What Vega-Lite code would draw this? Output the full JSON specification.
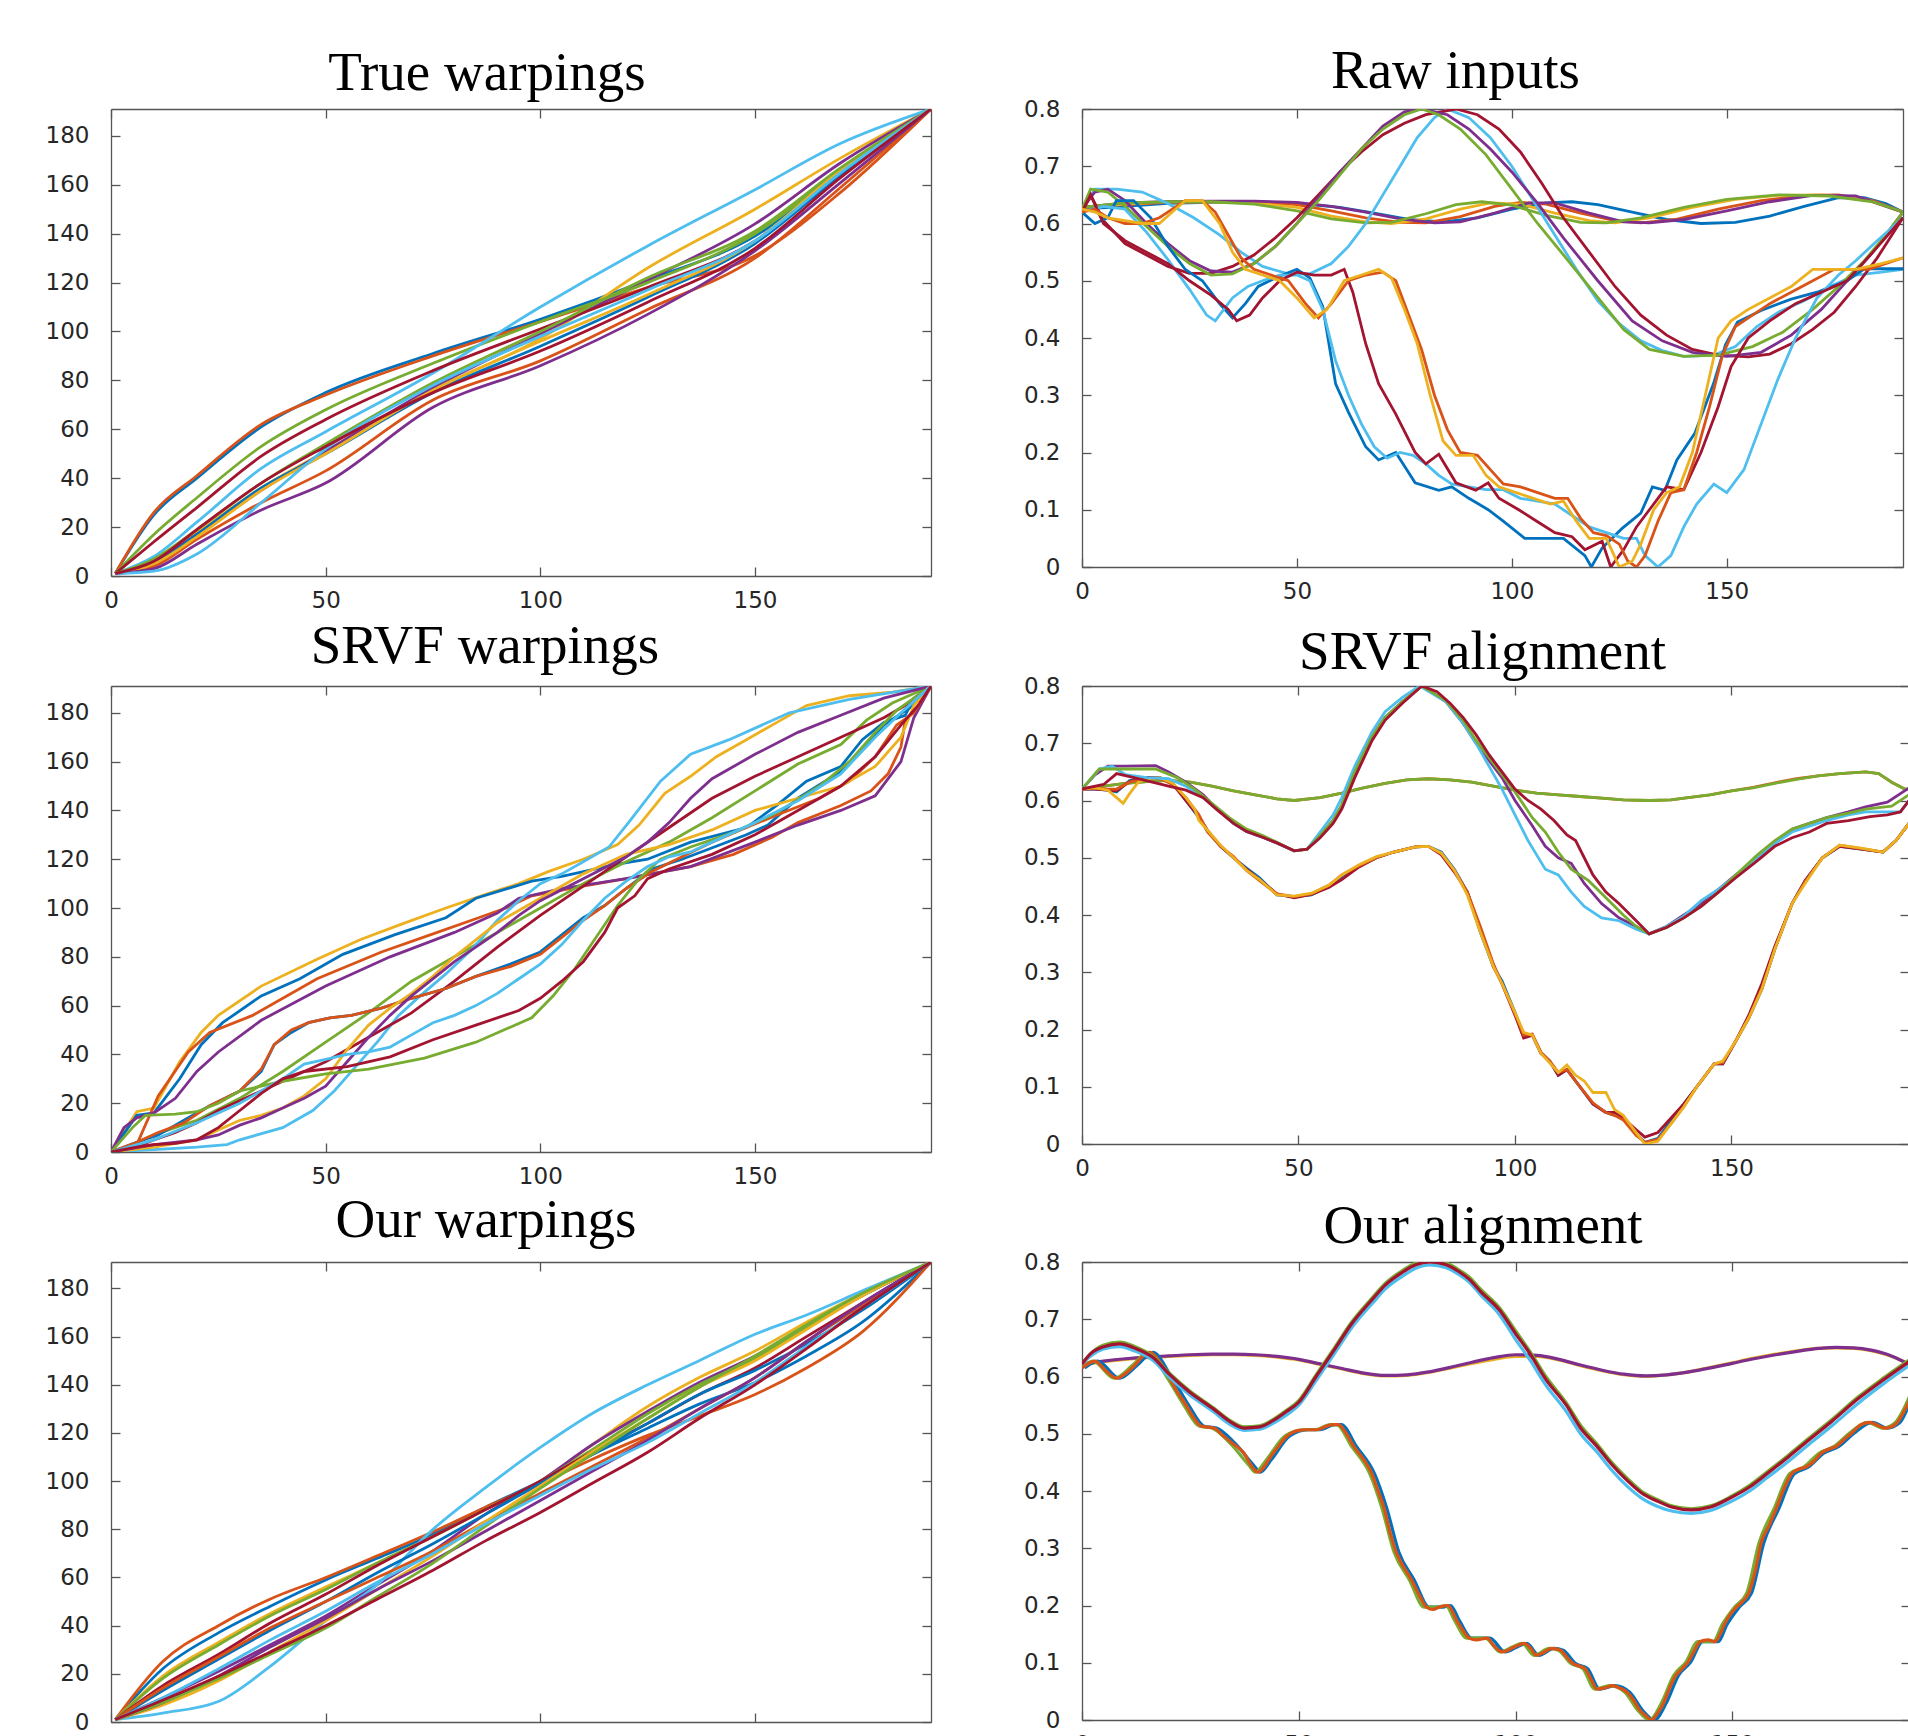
{
"$schema":"https://vega.github.io/schema/vega-lite/v6.json",
"padding":{"left":45,"top":43,"right":0,"bottom":0},
"background":"white",
"config":{
"view":{"stroke":null},
"axis":{"domainColor":"#555555","domainWidth":1.3,"tickColor":"#555555","tickWidth":1.3,"tickSize":-9,"labelFont":"DejaVu Sans","labelFontSize":23,"labelColor":"#262626","labelPadding":31,"labelFlush":false,"labelOverlap":false,"grid":false},
"axisBottom":{"labelPadding":22},
"title":{"font":"Liberation Serif","fontSize":55,"fontWeight":"normal","color":"#000000","anchor":"middle","frame":"group"}
},
"datasets":{
"tw":[
{"s":1,"x":1,"y":1},{"s":1,"x":10,"y":25},{"s":1,"x":20,"y":40},{"s":1,"x":35,"y":61},{"s":1,"x":50,"y":75},{"s":1,"x":75,"y":91},{"s":1,"x":100,"y":105},{"s":1,"x":125,"y":121},{"s":1,"x":150,"y":139},{"s":1,"x":170,"y":165},{"s":1,"x":191,"y":191},
{"s":2,"x":1,"y":1},{"s":2,"x":10,"y":26},{"s":2,"x":20,"y":41},{"s":2,"x":35,"y":62},{"s":2,"x":50,"y":74},{"s":2,"x":75,"y":90},{"s":2,"x":100,"y":104},{"s":2,"x":125,"y":118},{"s":2,"x":150,"y":131},{"s":2,"x":170,"y":157},{"s":2,"x":191,"y":191},
{"s":3,"x":1,"y":1},{"s":3,"x":10,"y":7},{"s":3,"x":20,"y":18},{"s":3,"x":35,"y":36},{"s":3,"x":50,"y":51},{"s":3,"x":75,"y":76},{"s":3,"x":100,"y":97},{"s":3,"x":125,"y":126},{"s":3,"x":150,"y":150},{"s":3,"x":170,"y":171},{"s":3,"x":191,"y":191},
{"s":4,"x":1,"y":1},{"s":4,"x":10,"y":6},{"s":4,"x":20,"y":17},{"s":4,"x":35,"y":35},{"s":4,"x":50,"y":51},{"s":4,"x":75,"y":77},{"s":4,"x":100,"y":99},{"s":4,"x":125,"y":121},{"s":4,"x":150,"y":144},{"s":4,"x":170,"y":169},{"s":4,"x":191,"y":191},
{"s":5,"x":1,"y":1},{"s":5,"x":10,"y":17},{"s":5,"x":20,"y":32},{"s":5,"x":35,"y":53},{"s":5,"x":50,"y":68},{"s":5,"x":75,"y":87},{"s":5,"x":100,"y":104},{"s":5,"x":125,"y":120},{"s":5,"x":150,"y":140},{"s":5,"x":170,"y":166},{"s":5,"x":191,"y":191},
{"s":6,"x":1,"y":1},{"s":6,"x":10,"y":8},{"s":6,"x":20,"y":22},{"s":6,"x":35,"y":44},{"s":6,"x":50,"y":59},{"s":6,"x":75,"y":83},{"s":6,"x":100,"y":110},{"s":6,"x":125,"y":135},{"s":6,"x":150,"y":158},{"s":6,"x":170,"y":177},{"s":6,"x":191,"y":191},
{"s":7,"x":1,"y":1},{"s":7,"x":10,"y":14},{"s":7,"x":20,"y":28},{"s":7,"x":35,"y":49},{"s":7,"x":50,"y":64},{"s":7,"x":75,"y":84},{"s":7,"x":100,"y":101},{"s":7,"x":125,"y":118},{"s":7,"x":150,"y":137},{"s":7,"x":170,"y":165},{"s":7,"x":191,"y":191},
{"s":8,"x":1,"y":1},{"s":8,"x":10,"y":5},{"s":8,"x":20,"y":17},{"s":8,"x":35,"y":36},{"s":8,"x":50,"y":50},{"s":8,"x":75,"y":75},{"s":8,"x":100,"y":94},{"s":8,"x":125,"y":114},{"s":8,"x":150,"y":136},{"s":8,"x":170,"y":164},{"s":8,"x":191,"y":191},
{"s":9,"x":1,"y":1},{"s":9,"x":10,"y":4},{"s":9,"x":20,"y":15},{"s":9,"x":35,"y":30},{"s":9,"x":50,"y":43},{"s":9,"x":75,"y":72},{"s":9,"x":100,"y":88},{"s":9,"x":125,"y":109},{"s":9,"x":150,"y":130},{"s":9,"x":170,"y":159},{"s":9,"x":191,"y":191},
{"s":10,"x":1,"y":1},{"s":10,"x":10,"y":5},{"s":10,"x":20,"y":16},{"s":10,"x":35,"y":35},{"s":10,"x":50,"y":50},{"s":10,"x":75,"y":76},{"s":10,"x":100,"y":96},{"s":10,"x":125,"y":115},{"s":10,"x":150,"y":137},{"s":10,"x":170,"y":166},{"s":10,"x":191,"y":191},
{"s":11,"x":1,"y":1},{"s":11,"x":10,"y":3},{"s":11,"x":20,"y":13},{"s":11,"x":35,"y":27},{"s":11,"x":50,"y":38},{"s":11,"x":75,"y":69},{"s":11,"x":100,"y":86},{"s":11,"x":125,"y":107},{"s":11,"x":150,"y":133},{"s":11,"x":170,"y":161},{"s":11,"x":191,"y":191},
{"s":12,"x":1,"y":1},{"s":12,"x":10,"y":7},{"s":12,"x":20,"y":19},{"s":12,"x":35,"y":38},{"s":12,"x":50,"y":54},{"s":12,"x":75,"y":79},{"s":12,"x":100,"y":100},{"s":12,"x":125,"y":122},{"s":12,"x":150,"y":141},{"s":12,"x":170,"y":167},{"s":12,"x":191,"y":191},
{"s":13,"x":1,"y":1},{"s":13,"x":10,"y":2},{"s":13,"x":20,"y":9},{"s":13,"x":35,"y":30},{"s":13,"x":50,"y":52},{"s":13,"x":75,"y":78},{"s":13,"x":100,"y":98},{"s":13,"x":125,"y":117},{"s":13,"x":150,"y":137},{"s":13,"x":170,"y":165},{"s":13,"x":191,"y":191},
{"s":14,"x":1,"y":1},{"s":14,"x":10,"y":6},{"s":14,"x":20,"y":19},{"s":14,"x":35,"y":38},{"s":14,"x":50,"y":53},{"s":14,"x":75,"y":75},{"s":14,"x":100,"y":92},{"s":14,"x":125,"y":112},{"s":14,"x":150,"y":134},{"s":14,"x":170,"y":163},{"s":14,"x":191,"y":191}
],
"rw":[
{"s":1,"x":0,"y":0.625},{"s":1,"x":10,"y":0.63},{"s":1,"x":20,"y":0.635},{"s":1,"x":30,"y":0.637},{"s":1,"x":40,"y":0.637},{"s":1,"x":50,"y":0.635},{"s":1,"x":60,"y":0.628},{"s":1,"x":68,"y":0.618},{"s":1,"x":76,"y":0.607},{"s":1,"x":84,"y":0.603},{"s":1,"x":92,"y":0.61},{"s":1,"x":100,"y":0.625},{"s":1,"x":108,"y":0.636},{"s":1,"x":114,"y":0.638},{"s":1,"x":120,"y":0.633},{"s":1,"x":128,"y":0.62},{"s":1,"x":136,"y":0.607},{"s":1,"x":144,"y":0.6},{"s":1,"x":152,"y":0.602},{"s":1,"x":160,"y":0.613},{"s":1,"x":168,"y":0.63},{"s":1,"x":176,"y":0.645},{"s":1,"x":182,"y":0.645},{"s":1,"x":187,"y":0.635},{"s":1,"x":191,"y":0.62},
{"s":2,"x":0,"y":0.628},{"s":2,"x":10,"y":0.633},{"s":2,"x":20,"y":0.637},{"s":2,"x":30,"y":0.638},{"s":2,"x":40,"y":0.638},{"s":2,"x":50,"y":0.633},{"s":2,"x":58,"y":0.622},{"s":2,"x":66,"y":0.61},{"s":2,"x":74,"y":0.602},{"s":2,"x":80,"y":0.601},{"s":2,"x":88,"y":0.612},{"s":2,"x":96,"y":0.63},{"s":2,"x":102,"y":0.637},{"s":2,"x":108,"y":0.634},{"s":2,"x":116,"y":0.618},{"s":2,"x":124,"y":0.605},{"s":2,"x":130,"y":0.601},{"s":2,"x":138,"y":0.607},{"s":2,"x":148,"y":0.625},{"s":2,"x":158,"y":0.64},{"s":2,"x":168,"y":0.649},{"s":2,"x":176,"y":0.65},{"s":2,"x":184,"y":0.64},{"s":2,"x":191,"y":0.62},
{"s":3,"x":0,"y":0.628},{"s":3,"x":10,"y":0.634},{"s":3,"x":20,"y":0.638},{"s":3,"x":30,"y":0.638},{"s":3,"x":40,"y":0.636},{"s":3,"x":50,"y":0.628},{"s":3,"x":58,"y":0.613},{"s":3,"x":66,"y":0.603},{"s":3,"x":72,"y":0.6},{"s":3,"x":80,"y":0.608},{"s":3,"x":88,"y":0.625},{"s":3,"x":95,"y":0.636},{"s":3,"x":102,"y":0.634},{"s":3,"x":110,"y":0.618},{"s":3,"x":118,"y":0.605},{"s":3,"x":124,"y":0.601},{"s":3,"x":132,"y":0.61},{"s":3,"x":142,"y":0.628},{"s":3,"x":152,"y":0.642},{"s":3,"x":162,"y":0.649},{"s":3,"x":172,"y":0.65},{"s":3,"x":182,"y":0.643},{"s":3,"x":191,"y":0.62},
{"s":4,"x":0,"y":0.628},{"s":4,"x":10,"y":0.636},{"s":4,"x":20,"y":0.638},{"s":4,"x":30,"y":0.639},{"s":4,"x":40,"y":0.639},{"s":4,"x":50,"y":0.637},{"s":4,"x":58,"y":0.63},{"s":4,"x":66,"y":0.62},{"s":4,"x":74,"y":0.608},{"s":4,"x":82,"y":0.601},{"s":4,"x":88,"y":0.603},{"s":4,"x":96,"y":0.618},{"s":4,"x":104,"y":0.636},{"s":4,"x":110,"y":0.636},{"s":4,"x":118,"y":0.618},{"s":4,"x":126,"y":0.603},{"s":4,"x":132,"y":0.601},{"s":4,"x":140,"y":0.607},{"s":4,"x":150,"y":0.622},{"s":4,"x":160,"y":0.638},{"s":4,"x":170,"y":0.649},{"s":4,"x":180,"y":0.648},{"s":4,"x":191,"y":0.62},
{"s":5,"x":0,"y":0.628},{"s":5,"x":10,"y":0.636},{"s":5,"x":20,"y":0.638},{"s":5,"x":30,"y":0.638},{"s":5,"x":40,"y":0.634},{"s":5,"x":50,"y":0.622},{"s":5,"x":58,"y":0.608},{"s":5,"x":66,"y":0.601},{"s":5,"x":72,"y":0.602},{"s":5,"x":80,"y":0.617},{"s":5,"x":87,"y":0.633},{"s":5,"x":93,"y":0.638},{"s":5,"x":100,"y":0.632},{"s":5,"x":108,"y":0.614},{"s":5,"x":116,"y":0.602},{"s":5,"x":122,"y":0.601},{"s":5,"x":130,"y":0.61},{"s":5,"x":140,"y":0.628},{"s":5,"x":150,"y":0.642},{"s":5,"x":162,"y":0.65},{"s":5,"x":174,"y":0.648},{"s":5,"x":184,"y":0.638},{"s":5,"x":191,"y":0.62},
{"s":6,"x":0,"y":0.625},{"s":6,"x":3,"y":0.66},{"s":6,"x":8,"y":0.66},{"s":6,"x":14,"y":0.655},{"s":6,"x":20,"y":0.635},{"s":6,"x":26,"y":0.61},{"s":6,"x":32,"y":0.58},{"s":6,"x":37,"y":0.55},{"s":6,"x":42,"y":0.525},{"s":6,"x":48,"y":0.512},{"s":6,"x":53,"y":0.512},{"s":6,"x":58,"y":0.53},{"s":6,"x":62,"y":0.56},{"s":6,"x":66,"y":0.6},{"s":6,"x":70,"y":0.65},{"s":6,"x":74,"y":0.7},{"s":6,"x":78,"y":0.75},{"s":6,"x":82,"y":0.785},{"s":6,"x":85,"y":0.8},{"s":6,"x":90,"y":0.785},{"s":6,"x":95,"y":0.75},{"s":6,"x":100,"y":0.7},{"s":6,"x":105,"y":0.64},{"s":6,"x":110,"y":0.58},{"s":6,"x":115,"y":0.52},{"s":6,"x":120,"y":0.465},{"s":6,"x":125,"y":0.425},{"s":6,"x":130,"y":0.395},{"s":6,"x":135,"y":0.378},{"s":6,"x":140,"y":0.368},{"s":6,"x":147,"y":0.37},{"s":6,"x":152,"y":0.385},{"s":6,"x":157,"y":0.42},{"s":6,"x":162,"y":0.445},{"s":6,"x":168,"y":0.465},{"s":6,"x":174,"y":0.49},{"s":6,"x":180,"y":0.51},{"s":6,"x":186,"y":0.515},{"s":6,"x":191,"y":0.52},
{"s":7,"x":0,"y":0.62},{"s":7,"x":2,"y":0.65},{"s":7,"x":5,"y":0.605},{"s":7,"x":10,"y":0.565},{"s":7,"x":15,"y":0.545},{"s":7,"x":20,"y":0.525},{"s":7,"x":25,"y":0.513},{"s":7,"x":30,"y":0.513},{"s":7,"x":35,"y":0.525},{"s":7,"x":40,"y":0.545},{"s":7,"x":45,"y":0.575},{"s":7,"x":50,"y":0.61},{"s":7,"x":55,"y":0.65},{"s":7,"x":60,"y":0.69},{"s":7,"x":65,"y":0.725},{"s":7,"x":70,"y":0.755},{"s":7,"x":75,"y":0.775},{"s":7,"x":80,"y":0.79},{"s":7,"x":87,"y":0.8},{"s":7,"x":92,"y":0.79},{"s":7,"x":97,"y":0.765},{"s":7,"x":102,"y":0.725},{"s":7,"x":107,"y":0.67},{"s":7,"x":112,"y":0.61},{"s":7,"x":118,"y":0.55},{"s":7,"x":124,"y":0.49},{"s":7,"x":130,"y":0.44},{"s":7,"x":136,"y":0.405},{"s":7,"x":142,"y":0.38},{"s":7,"x":148,"y":0.37},{"s":7,"x":155,"y":0.367},{"s":7,"x":160,"y":0.372},{"s":7,"x":165,"y":0.39},{"s":7,"x":170,"y":0.415},{"s":7,"x":175,"y":0.445},{"s":7,"x":180,"y":0.49},{"s":7,"x":185,"y":0.54},{"s":7,"x":191,"y":0.61},
{"s":11,"x":0,"y":0.625},{"s":11,"x":3,"y":0.655},{"s":11,"x":6,"y":0.66},{"s":11,"x":10,"y":0.64},{"s":11,"x":15,"y":0.6},{"s":11,"x":20,"y":0.565},{"s":11,"x":25,"y":0.535},{"s":11,"x":30,"y":0.517},{"s":11,"x":35,"y":0.515},{"s":11,"x":40,"y":0.53},{"s":11,"x":45,"y":0.56},{"s":11,"x":50,"y":0.6},{"s":11,"x":55,"y":0.645},{"s":11,"x":60,"y":0.69},{"s":11,"x":65,"y":0.73},{"s":11,"x":70,"y":0.77},{"s":11,"x":75,"y":0.795},{"s":11,"x":79,"y":0.8},{"s":11,"x":85,"y":0.79},{"s":11,"x":90,"y":0.765},{"s":11,"x":95,"y":0.73},{"s":11,"x":100,"y":0.69},{"s":11,"x":106,"y":0.635},{"s":11,"x":112,"y":0.575},{"s":11,"x":120,"y":0.5},{"s":11,"x":128,"y":0.43},{"s":11,"x":135,"y":0.395},{"s":11,"x":142,"y":0.375},{"s":11,"x":150,"y":0.368},{"s":11,"x":158,"y":0.375},{"s":11,"x":165,"y":0.405},{"s":11,"x":172,"y":0.45},{"s":11,"x":178,"y":0.5},{"s":11,"x":184,"y":0.55},{"s":11,"x":191,"y":0.62},
{"s":12,"x":0,"y":0.625},{"s":12,"x":2,"y":0.66},{"s":12,"x":6,"y":0.655},{"s":12,"x":10,"y":0.63},{"s":12,"x":15,"y":0.595},{"s":12,"x":20,"y":0.56},{"s":12,"x":25,"y":0.53},{"s":12,"x":30,"y":0.51},{"s":12,"x":35,"y":0.512},{"s":12,"x":40,"y":0.53},{"s":12,"x":45,"y":0.56},{"s":12,"x":50,"y":0.6},{"s":12,"x":55,"y":0.64},{"s":12,"x":60,"y":0.685},{"s":12,"x":65,"y":0.73},{"s":12,"x":70,"y":0.765},{"s":12,"x":75,"y":0.79},{"s":12,"x":79,"y":0.8},{"s":12,"x":83,"y":0.79},{"s":12,"x":88,"y":0.765},{"s":12,"x":94,"y":0.72},{"s":12,"x":100,"y":0.66},{"s":12,"x":106,"y":0.6},{"s":12,"x":112,"y":0.545},{"s":12,"x":119,"y":0.48},{"s":12,"x":126,"y":0.415},{"s":12,"x":132,"y":0.38},{"s":12,"x":140,"y":0.368},{"s":12,"x":148,"y":0.37},{"s":12,"x":156,"y":0.385},{"s":12,"x":163,"y":0.41},{"s":12,"x":170,"y":0.45},{"s":12,"x":176,"y":0.49},{"s":12,"x":182,"y":0.535},{"s":12,"x":187,"y":0.58},{"s":12,"x":191,"y":0.62},
{"s":8,"x":0,"y":0.62},{"s":8,"x":3,"y":0.6},{"s":8,"x":6,"y":0.61},{"s":8,"x":8,"y":0.64},{"s":8,"x":12,"y":0.64},{"s":8,"x":16,"y":0.61},{"s":8,"x":20,"y":0.56},{"s":8,"x":24,"y":0.52},{"s":8,"x":28,"y":0.5},{"s":8,"x":32,"y":0.46},{"s":8,"x":35,"y":0.435},{"s":8,"x":38,"y":0.46},{"s":8,"x":41,"y":0.49},{"s":8,"x":45,"y":0.505},{"s":8,"x":50,"y":0.52},{"s":8,"x":53,"y":0.505},{"s":8,"x":56,"y":0.455},{"s":8,"x":59,"y":0.32},{"s":8,"x":62,"y":0.27},{"s":8,"x":66,"y":0.21},{"s":8,"x":69,"y":0.187},{"s":8,"x":73,"y":0.2},{"s":8,"x":77.5,"y":0.147},{"s":8,"x":83,"y":0.134},{"s":8,"x":86,"y":0.14},{"s":8,"x":90,"y":0.12},{"s":8,"x":94.5,"y":0.1},{"s":8,"x":98,"y":0.08},{"s":8,"x":103,"y":0.05},{"s":8,"x":108,"y":0.05},{"s":8,"x":112,"y":0.05},{"s":8,"x":117,"y":0.02},{"s":8,"x":118.5,"y":0},{"s":8,"x":121,"y":0.033},{"s":8,"x":125.6,"y":0.067},{"s":8,"x":130,"y":0.094},{"s":8,"x":132.7,"y":0.14},{"s":8,"x":135.6,"y":0.134},{"s":8,"x":138.4,"y":0.187},{"s":8,"x":142.6,"y":0.234},{"s":8,"x":146.9,"y":0.32},{"s":8,"x":149.7,"y":0.388},{"s":8,"x":152.5,"y":0.428},{"s":8,"x":158,"y":0.448},{"s":8,"x":165,"y":0.468},{"s":8,"x":171,"y":0.48},{"s":8,"x":178,"y":0.5},{"s":8,"x":182,"y":0.521},{"s":8,"x":191,"y":0.521},
{"s":13,"x":0,"y":0.62},{"s":13,"x":5,"y":0.63},{"s":13,"x":10,"y":0.625},{"s":13,"x":15,"y":0.585},{"s":13,"x":20,"y":0.537},{"s":13,"x":25,"y":0.485},{"s":13,"x":29,"y":0.44},{"s":13,"x":31,"y":0.43},{"s":13,"x":35,"y":0.47},{"s":13,"x":38.6,"y":0.49},{"s":13,"x":42,"y":0.5},{"s":13,"x":46,"y":0.51},{"s":13,"x":50,"y":0.51},{"s":13,"x":53,"y":0.5},{"s":13,"x":56,"y":0.45},{"s":13,"x":59,"y":0.36},{"s":13,"x":62,"y":0.3},{"s":13,"x":65,"y":0.25},{"s":13,"x":68,"y":0.21},{"s":13,"x":71,"y":0.19},{"s":13,"x":74,"y":0.2},{"s":13,"x":77,"y":0.195},{"s":13,"x":80,"y":0.18},{"s":13,"x":83,"y":0.16},{"s":13,"x":86,"y":0.145},{"s":13,"x":90,"y":0.14},{"s":13,"x":94,"y":0.135},{"s":13,"x":98,"y":0.135},{"s":13,"x":102,"y":0.12},{"s":13,"x":106,"y":0.115},{"s":13,"x":110,"y":0.11},{"s":13,"x":114,"y":0.09},{"s":13,"x":118,"y":0.07},{"s":13,"x":122,"y":0.06},{"s":13,"x":126,"y":0.05},{"s":13,"x":129,"y":0.05},{"s":13,"x":131,"y":0.02},{"s":13,"x":134,"y":0},{"s":13,"x":137,"y":0.02},{"s":13,"x":140,"y":0.07},{"s":13,"x":143,"y":0.11},{"s":13,"x":147,"y":0.145},{"s":13,"x":150,"y":0.13},{"s":13,"x":154,"y":0.17},{"s":13,"x":158,"y":0.25},{"s":13,"x":162,"y":0.33},{"s":13,"x":166,"y":0.4},{"s":13,"x":171,"y":0.47},{"s":13,"x":176,"y":0.51},{"s":13,"x":180,"y":0.535},{"s":13,"x":185,"y":0.57},{"s":13,"x":191,"y":0.61},
{"s":14,"x":0,"y":0.62},{"s":14,"x":2,"y":0.65},{"s":14,"x":5,"y":0.6},{"s":14,"x":10,"y":0.57},{"s":14,"x":15,"y":0.55},{"s":14,"x":20,"y":0.53},{"s":14,"x":25,"y":0.5},{"s":14,"x":30,"y":0.475},{"s":14,"x":34,"y":0.45},{"s":14,"x":36,"y":0.43},{"s":14,"x":39,"y":0.44},{"s":14,"x":42,"y":0.47},{"s":14,"x":46,"y":0.5},{"s":14,"x":50,"y":0.515},{"s":14,"x":54,"y":0.51},{"s":14,"x":58,"y":0.51},{"s":14,"x":61,"y":0.52},{"s":14,"x":63,"y":0.48},{"s":14,"x":66,"y":0.39},{"s":14,"x":69,"y":0.32},{"s":14,"x":73,"y":0.267},{"s":14,"x":77.5,"y":0.2},{"s":14,"x":80,"y":0.18},{"s":14,"x":83,"y":0.197},{"s":14,"x":87,"y":0.147},{"s":14,"x":91.6,"y":0.134},{"s":14,"x":94.5,"y":0.147},{"s":14,"x":97,"y":0.12},{"s":14,"x":101.6,"y":0.1},{"s":14,"x":105.8,"y":0.08},{"s":14,"x":110,"y":0.06},{"s":14,"x":114,"y":0.053},{"s":14,"x":117,"y":0.03},{"s":14,"x":121,"y":0.045},{"s":14,"x":123,"y":0},{"s":14,"x":126,"y":0.03},{"s":14,"x":129,"y":0.07},{"s":14,"x":132,"y":0.1},{"s":14,"x":136,"y":0.14},{"s":14,"x":140,"y":0.135},{"s":14,"x":144,"y":0.2},{"s":14,"x":148,"y":0.28},{"s":14,"x":151,"y":0.35},{"s":14,"x":155,"y":0.4},{"s":14,"x":160,"y":0.43},{"s":14,"x":166,"y":0.46},{"s":14,"x":172,"y":0.48},{"s":14,"x":178,"y":0.5},{"s":14,"x":184,"y":0.55},{"s":14,"x":191,"y":0.61},
{"s":9,"x":0,"y":0.62},{"s":9,"x":3,"y":0.625},{"s":9,"x":6,"y":0.61},{"s":9,"x":10,"y":0.6},{"s":9,"x":14,"y":0.6},{"s":9,"x":18,"y":0.61},{"s":9,"x":21,"y":0.625},{"s":9,"x":24,"y":0.64},{"s":9,"x":28,"y":0.64},{"s":9,"x":31,"y":0.62},{"s":9,"x":34,"y":0.58},{"s":9,"x":37,"y":0.54},{"s":9,"x":40,"y":0.52},{"s":9,"x":44,"y":0.51},{"s":9,"x":48,"y":0.5},{"s":9,"x":52,"y":0.46},{"s":9,"x":55,"y":0.435},{"s":9,"x":58,"y":0.46},{"s":9,"x":62,"y":0.5},{"s":9,"x":66,"y":0.51},{"s":9,"x":70,"y":0.515},{"s":9,"x":73,"y":0.5},{"s":9,"x":76,"y":0.44},{"s":9,"x":79,"y":0.38},{"s":9,"x":82,"y":0.3},{"s":9,"x":85,"y":0.24},{"s":9,"x":88,"y":0.2},{"s":9,"x":92,"y":0.195},{"s":9,"x":95,"y":0.17},{"s":9,"x":98,"y":0.145},{"s":9,"x":102,"y":0.14},{"s":9,"x":106,"y":0.13},{"s":9,"x":110,"y":0.12},{"s":9,"x":113,"y":0.12},{"s":9,"x":116,"y":0.085},{"s":9,"x":119,"y":0.06},{"s":9,"x":122,"y":0.055},{"s":9,"x":125,"y":0.04},{"s":9,"x":127,"y":0.01},{"s":9,"x":129,"y":0},{"s":9,"x":131,"y":0.02},{"s":9,"x":134,"y":0.08},{"s":9,"x":137,"y":0.13},{"s":9,"x":140,"y":0.135},{"s":9,"x":143,"y":0.2},{"s":9,"x":146,"y":0.28},{"s":9,"x":149,"y":0.37},{"s":9,"x":152,"y":0.42},{"s":9,"x":156,"y":0.44},{"s":9,"x":160,"y":0.46},{"s":9,"x":165,"y":0.48},{"s":9,"x":170,"y":0.5},{"s":9,"x":175,"y":0.52},{"s":9,"x":183,"y":0.52},{"s":9,"x":191,"y":0.54},
{"s":10,"x":0,"y":0.625},{"s":10,"x":3,"y":0.62},{"s":10,"x":6,"y":0.61},{"s":10,"x":10,"y":0.605},{"s":10,"x":14,"y":0.6},{"s":10,"x":18,"y":0.6},{"s":10,"x":21,"y":0.62},{"s":10,"x":24,"y":0.64},{"s":10,"x":28,"y":0.64},{"s":10,"x":32,"y":0.6},{"s":10,"x":35,"y":0.55},{"s":10,"x":38,"y":0.52},{"s":10,"x":42,"y":0.51},{"s":10,"x":46,"y":0.5},{"s":10,"x":50,"y":0.47},{"s":10,"x":54,"y":0.435},{"s":10,"x":57,"y":0.45},{"s":10,"x":61,"y":0.5},{"s":10,"x":65,"y":0.51},{"s":10,"x":69,"y":0.52},{"s":10,"x":72,"y":0.505},{"s":10,"x":75,"y":0.45},{"s":10,"x":78,"y":0.39},{"s":10,"x":81,"y":0.3},{"s":10,"x":84,"y":0.22},{"s":10,"x":87,"y":0.195},{"s":10,"x":91,"y":0.195},{"s":10,"x":94,"y":0.16},{"s":10,"x":97,"y":0.14},{"s":10,"x":101,"y":0.13},{"s":10,"x":105,"y":0.12},{"s":10,"x":109,"y":0.11},{"s":10,"x":112,"y":0.115},{"s":10,"x":115,"y":0.08},{"s":10,"x":118,"y":0.05},{"s":10,"x":122,"y":0.05},{"s":10,"x":125,"y":0},{"s":10,"x":128,"y":0.01},{"s":10,"x":130,"y":0.04},{"s":10,"x":133,"y":0.1},{"s":10,"x":136,"y":0.13},{"s":10,"x":139,"y":0.14},{"s":10,"x":142,"y":0.2},{"s":10,"x":145,"y":0.3},{"s":10,"x":148,"y":0.4},{"s":10,"x":151,"y":0.43},{"s":10,"x":155,"y":0.45},{"s":10,"x":160,"y":0.47},{"s":10,"x":165,"y":0.49},{"s":10,"x":170,"y":0.52},{"s":10,"x":180,"y":0.52},{"s":10,"x":186,"y":0.53},{"s":10,"x":191,"y":0.54}
],
"sw":[
{"s":3,"x":0,"y":0},{"s":3,"x":6,"y":16.5},{"s":3,"x":10,"y":18},{"s":3,"x":16,"y":37},{"s":3,"x":21,"y":49},{"s":3,"x":25,"y":56},{"s":3,"x":35,"y":68},{"s":3,"x":48,"y":79},{"s":3,"x":58,"y":87},{"s":3,"x":68,"y":93.6},{"s":3,"x":78,"y":100},{"s":3,"x":88,"y":106},{"s":3,"x":95,"y":110},{"s":3,"x":102,"y":115},{"s":3,"x":110,"y":120},{"s":3,"x":118,"y":126},{"s":3,"x":123,"y":134},{"s":3,"x":129,"y":147},{"s":3,"x":135,"y":154},{"s":3,"x":141,"y":162},{"s":3,"x":148,"y":169},{"s":3,"x":155,"y":176},{"s":3,"x":162,"y":183},{"s":3,"x":172,"y":187},{"s":3,"x":182,"y":188.5},{"s":3,"x":191,"y":191},
{"s":1,"x":0,"y":0},{"s":1,"x":6,"y":15},{"s":1,"x":10,"y":16},{"s":1,"x":16,"y":30},{"s":1,"x":21,"y":44},{"s":1,"x":26,"y":53},{"s":1,"x":35,"y":64},{"s":1,"x":44,"y":71},{"s":1,"x":54,"y":81},{"s":1,"x":66,"y":89},{"s":1,"x":78,"y":96},{"s":1,"x":85,"y":104},{"s":1,"x":98,"y":111},{"s":1,"x":105,"y":113},{"s":1,"x":118,"y":118},{"s":1,"x":125,"y":120},{"s":1,"x":135,"y":127},{"s":1,"x":148,"y":133},{"s":1,"x":155,"y":142},{"s":1,"x":162,"y":152},{"s":1,"x":170,"y":158},{"s":1,"x":175,"y":169},{"s":1,"x":180,"y":176},{"s":1,"x":185,"y":179},{"s":1,"x":187,"y":186},{"s":1,"x":191,"y":191},
{"s":2,"x":0,"y":0},{"s":2,"x":6,"y":3},{"s":2,"x":11,"y":23},{"s":2,"x":18,"y":41},{"s":2,"x":23,"y":49},{"s":2,"x":33,"y":56},{"s":2,"x":48,"y":71},{"s":2,"x":63,"y":82},{"s":2,"x":76,"y":90},{"s":2,"x":84,"y":95},{"s":2,"x":92,"y":100},{"s":2,"x":98,"y":105},{"s":2,"x":110,"y":109},{"s":2,"x":120,"y":112},{"s":2,"x":129,"y":115},{"s":2,"x":135,"y":117},{"s":2,"x":145,"y":122},{"s":2,"x":154,"y":129},{"s":2,"x":160,"y":135},{"s":2,"x":170,"y":142},{"s":2,"x":177,"y":148},{"s":2,"x":181,"y":155},{"s":2,"x":184,"y":166},{"s":2,"x":185,"y":177},{"s":2,"x":188,"y":182},{"s":2,"x":191,"y":191},
{"s":4,"x":0,"y":0},{"s":4,"x":3,"y":10},{"s":4,"x":6,"y":14},{"s":4,"x":10,"y":16},{"s":4,"x":15,"y":22},{"s":4,"x":20,"y":33},{"s":4,"x":25,"y":41},{"s":4,"x":35,"y":54},{"s":4,"x":50,"y":68},{"s":4,"x":65,"y":80},{"s":4,"x":80,"y":90},{"s":4,"x":90,"y":98},{"s":4,"x":95,"y":104},{"s":4,"x":105,"y":108},{"s":4,"x":120,"y":112},{"s":4,"x":135,"y":117},{"s":4,"x":150,"y":127},{"s":4,"x":160,"y":134},{"s":4,"x":170,"y":140},{"s":4,"x":178,"y":146},{"s":4,"x":184,"y":160},{"s":4,"x":187,"y":178},{"s":4,"x":191,"y":191},
{"s":5,"x":0,"y":0},{"s":5,"x":5,"y":3},{"s":5,"x":10,"y":7},{"s":5,"x":20,"y":13},{"s":5,"x":30,"y":22},{"s":5,"x":40,"y":33},{"s":5,"x":50,"y":45},{"s":5,"x":60,"y":57},{"s":5,"x":70,"y":70},{"s":5,"x":80,"y":80},{"s":5,"x":90,"y":90},{"s":5,"x":100,"y":100},{"s":5,"x":110,"y":110},{"s":5,"x":120,"y":119},{"s":5,"x":130,"y":127},{"s":5,"x":140,"y":137},{"s":5,"x":150,"y":148},{"s":5,"x":160,"y":159},{"s":5,"x":170,"y":167},{"s":5,"x":176,"y":177},{"s":5,"x":182,"y":184},{"s":5,"x":191,"y":191},
{"s":6,"x":0,"y":0},{"s":6,"x":10,"y":1},{"s":6,"x":20,"y":2},{"s":6,"x":27,"y":3},{"s":6,"x":30,"y":5},{"s":6,"x":40,"y":10},{"s":6,"x":47,"y":17},{"s":6,"x":52,"y":25},{"s":6,"x":57,"y":35},{"s":6,"x":62,"y":45},{"s":6,"x":67,"y":56},{"s":6,"x":72,"y":64},{"s":6,"x":78,"y":73},{"s":6,"x":84,"y":83},{"s":6,"x":90,"y":95},{"s":6,"x":95,"y":103},{"s":6,"x":100,"y":110},{"s":6,"x":105,"y":114},{"s":6,"x":110,"y":119},{"s":6,"x":116,"y":125},{"s":6,"x":121,"y":136},{"s":6,"x":128,"y":152},{"s":6,"x":135,"y":163},{"s":6,"x":144,"y":169},{"s":6,"x":158,"y":180},{"s":6,"x":172,"y":185.5},{"s":6,"x":191,"y":191},
{"s":7,"x":0,"y":0},{"s":7,"x":6,"y":2},{"s":7,"x":10,"y":5},{"s":7,"x":15,"y":8},{"s":7,"x":20,"y":12},{"s":7,"x":25,"y":17},{"s":7,"x":30,"y":21},{"s":7,"x":35,"y":25},{"s":7,"x":40,"y":29},{"s":7,"x":50,"y":37},{"s":7,"x":60,"y":47},{"s":7,"x":70,"y":57},{"s":7,"x":80,"y":70},{"s":7,"x":90,"y":84},{"s":7,"x":100,"y":97},{"s":7,"x":110,"y":109},{"s":7,"x":120,"y":121},{"s":7,"x":130,"y":133},{"s":7,"x":140,"y":145},{"s":7,"x":150,"y":154},{"s":7,"x":160,"y":162},{"s":7,"x":170,"y":170},{"s":7,"x":180,"y":178},{"s":7,"x":186,"y":184},{"s":7,"x":191,"y":191},
{"s":8,"x":0,"y":0},{"s":8,"x":6,"y":4},{"s":8,"x":11,"y":7},{"s":8,"x":17,"y":13},{"s":8,"x":23,"y":19},{"s":8,"x":30,"y":25},{"s":8,"x":35,"y":33},{"s":8,"x":38,"y":44},{"s":8,"x":42,"y":49},{"s":8,"x":46,"y":53},{"s":8,"x":51,"y":55},{"s":8,"x":56,"y":56},{"s":8,"x":63,"y":59},{"s":8,"x":70,"y":63},{"s":8,"x":78,"y":67},{"s":8,"x":85,"y":72},{"s":8,"x":93,"y":77},{"s":8,"x":100,"y":82},{"s":8,"x":105,"y":89},{"s":8,"x":110,"y":96},{"s":8,"x":115,"y":101},{"s":8,"x":120,"y":108},{"s":8,"x":126,"y":116},{"s":8,"x":133,"y":120},{"s":8,"x":139,"y":124},{"s":8,"x":148,"y":130},{"s":8,"x":153,"y":134},{"s":8,"x":160,"y":145},{"s":8,"x":170,"y":156},{"s":8,"x":175,"y":165},{"s":8,"x":180,"y":175},{"s":8,"x":186,"y":182},{"s":8,"x":191,"y":191},
{"s":9,"x":0,"y":0},{"s":9,"x":6,"y":4},{"s":9,"x":11,"y":8},{"s":9,"x":17,"y":12},{"s":9,"x":23,"y":19},{"s":9,"x":30,"y":25},{"s":9,"x":35,"y":34},{"s":9,"x":38,"y":44},{"s":9,"x":42,"y":50},{"s":9,"x":46,"y":53},{"s":9,"x":51,"y":55},{"s":9,"x":56,"y":56},{"s":9,"x":63,"y":59},{"s":9,"x":70,"y":63},{"s":9,"x":78,"y":67},{"s":9,"x":85,"y":72},{"s":9,"x":93,"y":76},{"s":9,"x":100,"y":81},{"s":9,"x":105,"y":88},{"s":9,"x":110,"y":95},{"s":9,"x":115,"y":101},{"s":9,"x":120,"y":108},{"s":9,"x":126,"y":115},{"s":9,"x":133,"y":121},{"s":9,"x":140,"y":127},{"s":9,"x":148,"y":133},{"s":9,"x":155,"y":138},{"s":9,"x":165,"y":145},{"s":9,"x":172,"y":152},{"s":9,"x":178,"y":162},{"s":9,"x":183,"y":175},{"s":9,"x":187,"y":180},{"s":9,"x":191,"y":191},
{"s":10,"x":0,"y":0},{"s":10,"x":10,"y":2},{"s":10,"x":20,"y":5},{"s":10,"x":25,"y":9},{"s":10,"x":30,"y":13},{"s":10,"x":35,"y":15},{"s":10,"x":40,"y":18},{"s":10,"x":45,"y":23},{"s":10,"x":50,"y":30},{"s":10,"x":55,"y":42},{"s":10,"x":60,"y":52},{"s":10,"x":65,"y":59},{"s":10,"x":70,"y":65},{"s":10,"x":75,"y":72},{"s":10,"x":80,"y":80},{"s":10,"x":85,"y":87},{"s":10,"x":90,"y":94},{"s":10,"x":100,"y":104},{"s":10,"x":110,"y":114},{"s":10,"x":120,"y":122},{"s":10,"x":130,"y":126},{"s":10,"x":140,"y":132},{"s":10,"x":150,"y":140},{"s":10,"x":160,"y":145},{"s":10,"x":170,"y":150},{"s":10,"x":178,"y":158},{"s":10,"x":184,"y":170},{"s":10,"x":187,"y":183},{"s":10,"x":191,"y":191},
{"s":11,"x":0,"y":0},{"s":11,"x":10,"y":3},{"s":11,"x":20,"y":5},{"s":11,"x":25,"y":7},{"s":11,"x":30,"y":11},{"s":11,"x":35,"y":14},{"s":11,"x":40,"y":18},{"s":11,"x":45,"y":22},{"s":11,"x":50,"y":27},{"s":11,"x":55,"y":37},{"s":11,"x":60,"y":47},{"s":11,"x":65,"y":56},{"s":11,"x":70,"y":64},{"s":11,"x":80,"y":78},{"s":11,"x":90,"y":90},{"s":11,"x":95,"y":97},{"s":11,"x":100,"y":103},{"s":11,"x":110,"y":112},{"s":11,"x":120,"y":121},{"s":11,"x":125,"y":127},{"s":11,"x":130,"y":135},{"s":11,"x":135,"y":145},{"s":11,"x":140,"y":153},{"s":11,"x":150,"y":163},{"s":11,"x":160,"y":172},{"s":11,"x":170,"y":179},{"s":11,"x":180,"y":186},{"s":11,"x":191,"y":191},
{"s":12,"x":0,"y":0},{"s":12,"x":5,"y":10},{"s":12,"x":8,"y":15},{"s":12,"x":15,"y":15.5},{"s":12,"x":20,"y":16.5},{"s":12,"x":25,"y":20},{"s":12,"x":30,"y":25},{"s":12,"x":40,"y":29},{"s":12,"x":50,"y":32},{"s":12,"x":60,"y":34},{"s":12,"x":73,"y":38.5},{"s":12,"x":85,"y":45},{"s":12,"x":98,"y":55},{"s":12,"x":103,"y":64},{"s":12,"x":108,"y":75},{"s":12,"x":113,"y":88},{"s":12,"x":118,"y":101},{"s":12,"x":123,"y":112},{"s":12,"x":128,"y":120},{"s":12,"x":135,"y":125},{"s":12,"x":145,"y":131},{"s":12,"x":155,"y":139},{"s":12,"x":165,"y":150},{"s":12,"x":172,"y":160},{"s":12,"x":178,"y":172},{"s":12,"x":183,"y":181},{"s":12,"x":191,"y":191},
{"s":13,"x":0,"y":0},{"s":13,"x":10,"y":5},{"s":13,"x":20,"y":12},{"s":13,"x":30,"y":20},{"s":13,"x":40,"y":30},{"s":13,"x":45,"y":36},{"s":13,"x":50,"y":38},{"s":13,"x":55,"y":40},{"s":13,"x":60,"y":41},{"s":13,"x":65,"y":43},{"s":13,"x":70,"y":48},{"s":13,"x":75,"y":53},{"s":13,"x":80,"y":56},{"s":13,"x":85,"y":60},{"s":13,"x":90,"y":65},{"s":13,"x":95,"y":71},{"s":13,"x":100,"y":77},{"s":13,"x":105,"y":85},{"s":13,"x":110,"y":95},{"s":13,"x":115,"y":104},{"s":13,"x":120,"y":111},{"s":13,"x":125,"y":117},{"s":13,"x":130,"y":121},{"s":13,"x":135,"y":123},{"s":13,"x":140,"y":127},{"s":13,"x":150,"y":135},{"s":13,"x":160,"y":144},{"s":13,"x":170,"y":155},{"s":13,"x":178,"y":170},{"s":13,"x":184,"y":180},{"s":13,"x":191,"y":191},
{"s":14,"x":0,"y":0},{"s":14,"x":6,"y":2},{"s":14,"x":10,"y":3},{"s":14,"x":15,"y":3.5},{"s":14,"x":20,"y":5},{"s":14,"x":25,"y":10},{"s":14,"x":30,"y":17},{"s":14,"x":35,"y":24},{"s":14,"x":40,"y":30},{"s":14,"x":45,"y":33},{"s":14,"x":55,"y":35},{"s":14,"x":65,"y":39},{"s":14,"x":75,"y":46},{"s":14,"x":85,"y":52},{"s":14,"x":95,"y":58},{"s":14,"x":100,"y":63},{"s":14,"x":105,"y":70},{"s":14,"x":110,"y":78},{"s":14,"x":115,"y":90},{"s":14,"x":118,"y":100},{"s":14,"x":122,"y":105},{"s":14,"x":125,"y":112},{"s":14,"x":130,"y":116},{"s":14,"x":140,"y":122},{"s":14,"x":150,"y":130},{"s":14,"x":160,"y":140},{"s":14,"x":170,"y":150},{"s":14,"x":178,"y":162},{"s":14,"x":184,"y":175},{"s":14,"x":188,"y":183},{"s":14,"x":191,"y":191}
],
"sa":[
{"s":2,"x":0,"y":0.62},{"s":2,"x":5,"y":0.625},{"s":2,"x":10,"y":0.63},{"s":2,"x":15,"y":0.633},{"s":2,"x":20,"y":0.635},{"s":2,"x":25,"y":0.632},{"s":2,"x":30,"y":0.625},{"s":2,"x":35,"y":0.617},{"s":2,"x":40,"y":0.61},{"s":2,"x":45,"y":0.603},{"s":2,"x":49,"y":0.6},{"s":2,"x":55,"y":0.605},{"s":2,"x":60,"y":0.613},{"s":2,"x":65,"y":0.622},{"s":2,"x":70,"y":0.63},{"s":2,"x":75,"y":0.636},{"s":2,"x":80,"y":0.638},{"s":2,"x":85,"y":0.636},{"s":2,"x":90,"y":0.632},{"s":2,"x":95,"y":0.625},{"s":2,"x":100,"y":0.618},{"s":2,"x":105,"y":0.613},{"s":2,"x":110,"y":0.61},{"s":2,"x":115,"y":0.607},{"s":2,"x":120,"y":0.604},{"s":2,"x":125,"y":0.601},{"s":2,"x":131,"y":0.6},{"s":2,"x":136,"y":0.601},{"s":2,"x":140,"y":0.605},{"s":2,"x":145,"y":0.61},{"s":2,"x":150,"y":0.617},{"s":2,"x":155,"y":0.623},{"s":2,"x":160,"y":0.631},{"s":2,"x":165,"y":0.638},{"s":2,"x":170,"y":0.643},{"s":2,"x":175,"y":0.647},{"s":2,"x":181,"y":0.65},{"s":2,"x":184,"y":0.647},{"s":2,"x":187,"y":0.632},{"s":2,"x":190,"y":0.62},{"s":2,"x":191,"y":0.62},
{"s":5,"x":0,"y":0.62},{"s":5,"x":5,"y":0.625},{"s":5,"x":10,"y":0.63},{"s":5,"x":15,"y":0.633},{"s":5,"x":20,"y":0.635},{"s":5,"x":25,"y":0.632},{"s":5,"x":30,"y":0.625},{"s":5,"x":35,"y":0.617},{"s":5,"x":40,"y":0.61},{"s":5,"x":45,"y":0.603},{"s":5,"x":49,"y":0.6},{"s":5,"x":55,"y":0.605},{"s":5,"x":60,"y":0.613},{"s":5,"x":65,"y":0.622},{"s":5,"x":70,"y":0.63},{"s":5,"x":75,"y":0.636},{"s":5,"x":80,"y":0.638},{"s":5,"x":85,"y":0.636},{"s":5,"x":90,"y":0.632},{"s":5,"x":95,"y":0.625},{"s":5,"x":100,"y":0.618},{"s":5,"x":105,"y":0.613},{"s":5,"x":110,"y":0.61},{"s":5,"x":115,"y":0.607},{"s":5,"x":120,"y":0.604},{"s":5,"x":125,"y":0.601},{"s":5,"x":131,"y":0.6},{"s":5,"x":136,"y":0.601},{"s":5,"x":140,"y":0.605},{"s":5,"x":145,"y":0.61},{"s":5,"x":150,"y":0.617},{"s":5,"x":155,"y":0.622},{"s":5,"x":160,"y":0.63},{"s":5,"x":165,"y":0.637},{"s":5,"x":170,"y":0.643},{"s":5,"x":175,"y":0.647},{"s":5,"x":181,"y":0.65},{"s":5,"x":184,"y":0.647},{"s":5,"x":187,"y":0.632},{"s":5,"x":190,"y":0.62},{"s":5,"x":191,"y":0.62},
{"s":1,"x":0,"y":0.62},{"s":1,"x":3,"y":0.62},{"s":1,"x":6,"y":0.618},{"s":1,"x":8,"y":0.615},{"s":1,"x":11,"y":0.635},{"s":1,"x":15,"y":0.64},{"s":1,"x":18,"y":0.64},{"s":1,"x":21,"y":0.63},{"s":1,"x":24,"y":0.6},{"s":1,"x":27,"y":0.57},{"s":1,"x":29,"y":0.546},{"s":1,"x":32,"y":0.52},{"s":1,"x":35,"y":0.5},{"s":1,"x":38,"y":0.482},{"s":1,"x":41,"y":0.465},{"s":1,"x":45,"y":0.435},{"s":1,"x":49,"y":0.432},{"s":1,"x":53,"y":0.435},{"s":1,"x":57,"y":0.45},{"s":1,"x":60,"y":0.468},{"s":1,"x":64,"y":0.485},{"s":1,"x":68,"y":0.5},{"s":1,"x":72,"y":0.51},{"s":1,"x":77,"y":0.519},{"s":1,"x":80,"y":0.52},{"s":1,"x":83,"y":0.51},{"s":1,"x":86,"y":0.48},{"s":1,"x":89,"y":0.44},{"s":1,"x":92,"y":0.37},{"s":1,"x":95,"y":0.31},{"s":1,"x":97,"y":0.285},{"s":1,"x":100,"y":0.23},{"s":1,"x":102,"y":0.19},{"s":1,"x":104,"y":0.19},{"s":1,"x":106,"y":0.16},{"s":1,"x":108,"y":0.145},{"s":1,"x":110,"y":0.12},{"s":1,"x":112,"y":0.13},{"s":1,"x":115,"y":0.1},{"s":1,"x":118,"y":0.07},{"s":1,"x":121,"y":0.055},{"s":1,"x":123,"y":0.05},{"s":1,"x":125,"y":0.045},{"s":1,"x":128,"y":0.018},{"s":1,"x":130,"y":0.003},{"s":1,"x":133,"y":0.01},{"s":1,"x":136,"y":0.04},{"s":1,"x":139,"y":0.07},{"s":1,"x":142,"y":0.1},{"s":1,"x":146,"y":0.14},{"s":1,"x":148,"y":0.14},{"s":1,"x":151,"y":0.18},{"s":1,"x":154,"y":0.22},{"s":1,"x":157,"y":0.27},{"s":1,"x":160,"y":0.34},{"s":1,"x":164,"y":0.42},{"s":1,"x":167,"y":0.46},{"s":1,"x":171,"y":0.5},{"s":1,"x":175,"y":0.52},{"s":1,"x":180,"y":0.515},{"s":1,"x":185,"y":0.51},{"s":1,"x":188,"y":0.53},{"s":1,"x":191,"y":0.56},
{"s":14,"x":0,"y":0.62},{"s":14,"x":3,"y":0.62},{"s":14,"x":6,"y":0.618},{"s":14,"x":8,"y":0.617},{"s":14,"x":11,"y":0.633},{"s":14,"x":15,"y":0.64},{"s":14,"x":18,"y":0.64},{"s":14,"x":21,"y":0.628},{"s":14,"x":24,"y":0.6},{"s":14,"x":27,"y":0.572},{"s":14,"x":29,"y":0.548},{"s":14,"x":32,"y":0.52},{"s":14,"x":35,"y":0.5},{"s":14,"x":38,"y":0.48},{"s":14,"x":41,"y":0.462},{"s":14,"x":45,"y":0.437},{"s":14,"x":49,"y":0.43},{"s":14,"x":53,"y":0.436},{"s":14,"x":57,"y":0.448},{"s":14,"x":60,"y":0.462},{"s":14,"x":64,"y":0.484},{"s":14,"x":68,"y":0.5},{"s":14,"x":72,"y":0.51},{"s":14,"x":77,"y":0.519},{"s":14,"x":80,"y":0.52},{"s":14,"x":83,"y":0.505},{"s":14,"x":86,"y":0.475},{"s":14,"x":89,"y":0.44},{"s":14,"x":92,"y":0.375},{"s":14,"x":95,"y":0.31},{"s":14,"x":97,"y":0.28},{"s":14,"x":100,"y":0.225},{"s":14,"x":102,"y":0.185},{"s":14,"x":104,"y":0.19},{"s":14,"x":106,"y":0.158},{"s":14,"x":108,"y":0.145},{"s":14,"x":110,"y":0.12},{"s":14,"x":112,"y":0.13},{"s":14,"x":115,"y":0.1},{"s":14,"x":118,"y":0.07},{"s":14,"x":121,"y":0.055},{"s":14,"x":123,"y":0.055},{"s":14,"x":125,"y":0.045},{"s":14,"x":128,"y":0.025},{"s":14,"x":130,"y":0.012},{"s":14,"x":133,"y":0.02},{"s":14,"x":136,"y":0.045},{"s":14,"x":139,"y":0.07},{"s":14,"x":142,"y":0.1},{"s":14,"x":146,"y":0.14},{"s":14,"x":148,"y":0.14},{"s":14,"x":151,"y":0.18},{"s":14,"x":154,"y":0.225},{"s":14,"x":157,"y":0.28},{"s":14,"x":160,"y":0.345},{"s":14,"x":164,"y":0.42},{"s":14,"x":167,"y":0.46},{"s":14,"x":171,"y":0.5},{"s":14,"x":175,"y":0.52},{"s":14,"x":180,"y":0.515},{"s":14,"x":185,"y":0.51},{"s":14,"x":188,"y":0.53},{"s":14,"x":191,"y":0.56},
{"s":9,"x":0,"y":0.62},{"s":9,"x":3,"y":0.622},{"s":9,"x":6,"y":0.62},{"s":9,"x":8,"y":0.62},{"s":9,"x":11,"y":0.632},{"s":9,"x":15,"y":0.638},{"s":9,"x":18,"y":0.638},{"s":9,"x":21,"y":0.628},{"s":9,"x":24,"y":0.605},{"s":9,"x":27,"y":0.575},{"s":9,"x":29,"y":0.545},{"s":9,"x":32,"y":0.52},{"s":9,"x":35,"y":0.502},{"s":9,"x":38,"y":0.478},{"s":9,"x":41,"y":0.46},{"s":9,"x":45,"y":0.437},{"s":9,"x":49,"y":0.432},{"s":9,"x":53,"y":0.437},{"s":9,"x":57,"y":0.452},{"s":9,"x":60,"y":0.47},{"s":9,"x":64,"y":0.486},{"s":9,"x":68,"y":0.5},{"s":9,"x":72,"y":0.51},{"s":9,"x":77,"y":0.519},{"s":9,"x":80,"y":0.52},{"s":9,"x":83,"y":0.507},{"s":9,"x":86,"y":0.478},{"s":9,"x":89,"y":0.44},{"s":9,"x":92,"y":0.38},{"s":9,"x":95,"y":0.315},{"s":9,"x":97,"y":0.28},{"s":9,"x":100,"y":0.228},{"s":9,"x":102,"y":0.19},{"s":9,"x":104,"y":0.192},{"s":9,"x":106,"y":0.16},{"s":9,"x":108,"y":0.145},{"s":9,"x":110,"y":0.125},{"s":9,"x":112,"y":0.13},{"s":9,"x":115,"y":0.1},{"s":9,"x":118,"y":0.072},{"s":9,"x":121,"y":0.055},{"s":9,"x":123,"y":0.05},{"s":9,"x":125,"y":0.042},{"s":9,"x":128,"y":0.015},{"s":9,"x":130,"y":0.003},{"s":9,"x":133,"y":0.008},{"s":9,"x":136,"y":0.035},{"s":9,"x":139,"y":0.065},{"s":9,"x":142,"y":0.1},{"s":9,"x":146,"y":0.14},{"s":9,"x":148,"y":0.142},{"s":9,"x":151,"y":0.18},{"s":9,"x":154,"y":0.22},{"s":9,"x":157,"y":0.272},{"s":9,"x":160,"y":0.34},{"s":9,"x":164,"y":0.42},{"s":9,"x":167,"y":0.458},{"s":9,"x":171,"y":0.5},{"s":9,"x":175,"y":0.522},{"s":9,"x":180,"y":0.516},{"s":9,"x":185,"y":0.51},{"s":9,"x":188,"y":0.53},{"s":9,"x":191,"y":0.56},
{"s":10,"x":0,"y":0.62},{"s":10,"x":3,"y":0.622},{"s":10,"x":6,"y":0.618},{"s":10,"x":8,"y":0.605},{"s":10,"x":9.5,"y":0.595},{"s":10,"x":11,"y":0.612},{"s":10,"x":13,"y":0.632},{"s":10,"x":15,"y":0.638},{"s":10,"x":18,"y":0.64},{"s":10,"x":21,"y":0.63},{"s":10,"x":24,"y":0.605},{"s":10,"x":26,"y":0.585},{"s":10,"x":27,"y":0.565},{"s":10,"x":29,"y":0.548},{"s":10,"x":32,"y":0.522},{"s":10,"x":35,"y":0.5},{"s":10,"x":38,"y":0.478},{"s":10,"x":41,"y":0.462},{"s":10,"x":45,"y":0.435},{"s":10,"x":49,"y":0.433},{"s":10,"x":53,"y":0.438},{"s":10,"x":57,"y":0.452},{"s":10,"x":60,"y":0.47},{"s":10,"x":64,"y":0.488},{"s":10,"x":68,"y":0.502},{"s":10,"x":72,"y":0.51},{"s":10,"x":77,"y":0.519},{"s":10,"x":80,"y":0.52},{"s":10,"x":83,"y":0.508},{"s":10,"x":86,"y":0.478},{"s":10,"x":89,"y":0.435},{"s":10,"x":92,"y":0.37},{"s":10,"x":95,"y":0.31},{"s":10,"x":97,"y":0.28},{"s":10,"x":100,"y":0.23},{"s":10,"x":102,"y":0.195},{"s":10,"x":104,"y":0.19},{"s":10,"x":106,"y":0.158},{"s":10,"x":108,"y":0.142},{"s":10,"x":110,"y":0.125},{"s":10,"x":112,"y":0.138},{"s":10,"x":114,"y":0.12},{"s":10,"x":116,"y":0.11},{"s":10,"x":118,"y":0.09},{"s":10,"x":121,"y":0.09},{"s":10,"x":123,"y":0.06},{"s":10,"x":125,"y":0.05},{"s":10,"x":128,"y":0.02},{"s":10,"x":130,"y":0.0},{"s":10,"x":133,"y":0.005},{"s":10,"x":136,"y":0.035},{"s":10,"x":139,"y":0.065},{"s":10,"x":142,"y":0.1},{"s":10,"x":146,"y":0.14},{"s":10,"x":148,"y":0.145},{"s":10,"x":151,"y":0.18},{"s":10,"x":154,"y":0.22},{"s":10,"x":157,"y":0.27},{"s":10,"x":160,"y":0.34},{"s":10,"x":164,"y":0.42},{"s":10,"x":167,"y":0.455},{"s":10,"x":171,"y":0.5},{"s":10,"x":175,"y":0.522},{"s":10,"x":180,"y":0.517},{"s":10,"x":185,"y":0.51},{"s":10,"x":188,"y":0.53},{"s":10,"x":191,"y":0.56},
{"s":11,"x":0,"y":0.62},{"s":11,"x":3,"y":0.645},{"s":11,"x":6,"y":0.66},{"s":11,"x":10,"y":0.66},{"s":11,"x":17,"y":0.661},{"s":11,"x":20,"y":0.65},{"s":11,"x":24,"y":0.632},{"s":11,"x":28,"y":0.61},{"s":11,"x":31,"y":0.586},{"s":11,"x":35,"y":0.56},{"s":11,"x":38,"y":0.546},{"s":11,"x":42,"y":0.535},{"s":11,"x":45,"y":0.526},{"s":11,"x":49,"y":0.512},{"s":11,"x":52,"y":0.515},{"s":11,"x":55,"y":0.539},{"s":11,"x":58,"y":0.565},{"s":11,"x":60,"y":0.592},{"s":11,"x":63,"y":0.65},{"s":11,"x":67,"y":0.712},{"s":11,"x":70,"y":0.745},{"s":11,"x":74,"y":0.773},{"s":11,"x":78.5,"y":0.8},{"s":11,"x":84,"y":0.773},{"s":11,"x":88,"y":0.735},{"s":11,"x":91,"y":0.7},{"s":11,"x":94,"y":0.67},{"s":11,"x":97,"y":0.64},{"s":11,"x":100,"y":0.6},{"s":11,"x":104,"y":0.556},{"s":11,"x":107,"y":0.52},{"s":11,"x":110,"y":0.5},{"s":11,"x":113,"y":0.49},{"s":11,"x":116,"y":0.455},{"s":11,"x":120,"y":0.42},{"s":11,"x":124,"y":0.395},{"s":11,"x":128,"y":0.38},{"s":11,"x":131,"y":0.367},{"s":11,"x":135,"y":0.38},{"s":11,"x":139,"y":0.4},{"s":11,"x":143,"y":0.42},{"s":11,"x":147,"y":0.445},{"s":11,"x":151,"y":0.47},{"s":11,"x":156,"y":0.499},{"s":11,"x":160,"y":0.525},{"s":11,"x":164,"y":0.55},{"s":11,"x":168,"y":0.56},{"s":11,"x":172,"y":0.57},{"s":11,"x":177,"y":0.58},{"s":11,"x":181,"y":0.589},{"s":11,"x":186,"y":0.597},{"s":11,"x":191,"y":0.622},
{"s":6,"x":0,"y":0.62},{"s":6,"x":4,"y":0.655},{"s":6,"x":7,"y":0.66},{"s":6,"x":10,"y":0.645},{"s":6,"x":15,"y":0.64},{"s":6,"x":20,"y":0.638},{"s":6,"x":24,"y":0.625},{"s":6,"x":28,"y":0.605},{"s":6,"x":31,"y":0.586},{"s":6,"x":35,"y":0.56},{"s":6,"x":38,"y":0.546},{"s":6,"x":42,"y":0.535},{"s":6,"x":45,"y":0.526},{"s":6,"x":49,"y":0.512},{"s":6,"x":52,"y":0.515},{"s":6,"x":55,"y":0.545},{"s":6,"x":58,"y":0.575},{"s":6,"x":60,"y":0.605},{"s":6,"x":63,"y":0.66},{"s":6,"x":67,"y":0.72},{"s":6,"x":70,"y":0.755},{"s":6,"x":74,"y":0.78},{"s":6,"x":78,"y":0.8},{"s":6,"x":84,"y":0.773},{"s":6,"x":88,"y":0.735},{"s":6,"x":91,"y":0.7},{"s":6,"x":94,"y":0.66},{"s":6,"x":97,"y":0.62},{"s":6,"x":100,"y":0.575},{"s":6,"x":103,"y":0.53},{"s":6,"x":105,"y":0.505},{"s":6,"x":107,"y":0.48},{"s":6,"x":110,"y":0.47},{"s":6,"x":113,"y":0.44},{"s":6,"x":116,"y":0.415},{"s":6,"x":120,"y":0.395},{"s":6,"x":124,"y":0.39},{"s":6,"x":128,"y":0.375},{"s":6,"x":131,"y":0.367},{"s":6,"x":135,"y":0.38},{"s":6,"x":139,"y":0.398},{"s":6,"x":143,"y":0.425},{"s":6,"x":147,"y":0.445},{"s":6,"x":151,"y":0.468},{"s":6,"x":156,"y":0.499},{"s":6,"x":160,"y":0.525},{"s":6,"x":164,"y":0.545},{"s":6,"x":168,"y":0.555},{"s":6,"x":172,"y":0.565},{"s":6,"x":177,"y":0.575},{"s":6,"x":181,"y":0.58},{"s":6,"x":186,"y":0.58},{"s":6,"x":189,"y":0.58},{"s":6,"x":191,"y":0.6},
{"s":12,"x":0,"y":0.62},{"s":12,"x":4,"y":0.655},{"s":12,"x":8,"y":0.655},{"s":12,"x":17,"y":0.655},{"s":12,"x":22,"y":0.64},{"s":12,"x":26,"y":0.62},{"s":12,"x":30,"y":0.595},{"s":12,"x":34,"y":0.57},{"s":12,"x":38,"y":0.55},{"s":12,"x":42,"y":0.538},{"s":12,"x":45,"y":0.527},{"s":12,"x":49,"y":0.512},{"s":12,"x":52,"y":0.515},{"s":12,"x":55,"y":0.539},{"s":12,"x":58,"y":0.565},{"s":12,"x":60,"y":0.592},{"s":12,"x":63,"y":0.65},{"s":12,"x":67,"y":0.712},{"s":12,"x":70,"y":0.745},{"s":12,"x":74,"y":0.773},{"s":12,"x":78.5,"y":0.8},{"s":12,"x":84,"y":0.775},{"s":12,"x":88,"y":0.74},{"s":12,"x":91,"y":0.705},{"s":12,"x":94,"y":0.675},{"s":12,"x":97,"y":0.645},{"s":12,"x":100,"y":0.615},{"s":12,"x":104,"y":0.57},{"s":12,"x":107,"y":0.545},{"s":12,"x":110,"y":0.51},{"s":12,"x":113,"y":0.48},{"s":12,"x":117,"y":0.46},{"s":12,"x":121,"y":0.43},{"s":12,"x":125,"y":0.4},{"s":12,"x":128,"y":0.38},{"s":12,"x":131,"y":0.367},{"s":12,"x":135,"y":0.378},{"s":12,"x":139,"y":0.395},{"s":12,"x":143,"y":0.415},{"s":12,"x":147,"y":0.44},{"s":12,"x":151,"y":0.47},{"s":12,"x":156,"y":0.505},{"s":12,"x":160,"y":0.53},{"s":12,"x":164,"y":0.55},{"s":12,"x":168,"y":0.56},{"s":12,"x":172,"y":0.57},{"s":12,"x":177,"y":0.578},{"s":12,"x":181,"y":0.585},{"s":12,"x":187,"y":0.59},{"s":12,"x":191,"y":0.61},
{"s":7,"x":0,"y":0.62},{"s":7,"x":5,"y":0.628},{"s":7,"x":8,"y":0.647},{"s":7,"x":12,"y":0.64},{"s":7,"x":20,"y":0.625},{"s":7,"x":24,"y":0.618},{"s":7,"x":28,"y":0.605},{"s":7,"x":31,"y":0.585},{"s":7,"x":35,"y":0.56},{"s":7,"x":38,"y":0.546},{"s":7,"x":42,"y":0.535},{"s":7,"x":45,"y":0.526},{"s":7,"x":49,"y":0.512},{"s":7,"x":52,"y":0.515},{"s":7,"x":55,"y":0.535},{"s":7,"x":58,"y":0.56},{"s":7,"x":60,"y":0.585},{"s":7,"x":63,"y":0.64},{"s":7,"x":67,"y":0.705},{"s":7,"x":70,"y":0.74},{"s":7,"x":74,"y":0.77},{"s":7,"x":78.5,"y":0.8},{"s":7,"x":82,"y":0.79},{"s":7,"x":85,"y":0.77},{"s":7,"x":88,"y":0.745},{"s":7,"x":91,"y":0.715},{"s":7,"x":94,"y":0.68},{"s":7,"x":97,"y":0.65},{"s":7,"x":100,"y":0.62},{"s":7,"x":103,"y":0.6},{"s":7,"x":106,"y":0.585},{"s":7,"x":109,"y":0.565},{"s":7,"x":112,"y":0.54},{"s":7,"x":114,"y":0.53},{"s":7,"x":116,"y":0.5},{"s":7,"x":118,"y":0.47},{"s":7,"x":121,"y":0.44},{"s":7,"x":124,"y":0.42},{"s":7,"x":128,"y":0.39},{"s":7,"x":131,"y":0.367},{"s":7,"x":135,"y":0.378},{"s":7,"x":139,"y":0.395},{"s":7,"x":143,"y":0.415},{"s":7,"x":147,"y":0.44},{"s":7,"x":151,"y":0.465},{"s":7,"x":156,"y":0.495},{"s":7,"x":160,"y":0.52},{"s":7,"x":164,"y":0.535},{"s":7,"x":168,"y":0.545},{"s":7,"x":172,"y":0.56},{"s":7,"x":177,"y":0.565},{"s":7,"x":182,"y":0.572},{"s":7,"x":186,"y":0.575},{"s":7,"x":189,"y":0.58},{"s":7,"x":191,"y":0.6}
],
"ow":[
{"s":1,"x":1,"y":1},{"s":1,"x":12,"y":22},{"s":1,"x":25,"y":37},{"s":1,"x":37,"y":48},{"s":1,"x":50,"y":59},{"s":1,"x":62,"y":68},{"s":1,"x":75,"y":78},{"s":1,"x":87,"y":89},{"s":1,"x":100,"y":100},{"s":1,"x":112,"y":111},{"s":1,"x":125,"y":122},{"s":1,"x":137,"y":132},{"s":1,"x":150,"y":141},{"s":1,"x":162,"y":152},{"s":1,"x":175,"y":166},{"s":1,"x":191,"y":191},
{"s":2,"x":1,"y":1},{"s":2,"x":12,"y":25},{"s":2,"x":25,"y":40},{"s":2,"x":37,"y":51},{"s":2,"x":50,"y":60},{"s":2,"x":62,"y":69},{"s":2,"x":75,"y":79},{"s":2,"x":87,"y":89},{"s":2,"x":100,"y":99},{"s":2,"x":112,"y":109},{"s":2,"x":125,"y":119},{"s":2,"x":137,"y":127},{"s":2,"x":150,"y":136},{"s":2,"x":162,"y":147},{"s":2,"x":175,"y":162},{"s":2,"x":191,"y":191},
{"s":3,"x":1,"y":1},{"s":3,"x":12,"y":19},{"s":3,"x":25,"y":33},{"s":3,"x":37,"y":45},{"s":3,"x":50,"y":56},{"s":3,"x":62,"y":66},{"s":3,"x":75,"y":77},{"s":3,"x":87,"y":88},{"s":3,"x":100,"y":100},{"s":3,"x":112,"y":115},{"s":3,"x":125,"y":131},{"s":3,"x":137,"y":143},{"s":3,"x":150,"y":154},{"s":3,"x":162,"y":166},{"s":3,"x":175,"y":178},{"s":3,"x":191,"y":191},
{"s":4,"x":1,"y":1},{"s":4,"x":12,"y":10},{"s":4,"x":25,"y":21},{"s":4,"x":37,"y":32},{"s":4,"x":50,"y":44},{"s":4,"x":62,"y":57},{"s":4,"x":75,"y":71},{"s":4,"x":87,"y":86},{"s":4,"x":100,"y":100},{"s":4,"x":112,"y":115},{"s":4,"x":125,"y":129},{"s":4,"x":137,"y":141},{"s":4,"x":150,"y":152},{"s":4,"x":162,"y":164},{"s":4,"x":175,"y":177},{"s":4,"x":191,"y":191},
{"s":5,"x":1,"y":1},{"s":5,"x":12,"y":18},{"s":5,"x":25,"y":32},{"s":5,"x":37,"y":44},{"s":5,"x":50,"y":55},{"s":5,"x":62,"y":66},{"s":5,"x":75,"y":77},{"s":5,"x":87,"y":88},{"s":5,"x":100,"y":100},{"s":5,"x":112,"y":113},{"s":5,"x":125,"y":128},{"s":5,"x":137,"y":140},{"s":5,"x":150,"y":151},{"s":5,"x":162,"y":164},{"s":5,"x":175,"y":177},{"s":5,"x":191,"y":191},
{"s":6,"x":1,"y":1},{"s":6,"x":12,"y":3.7},{"s":6,"x":25,"y":8.5},{"s":6,"x":37,"y":23},{"s":6,"x":50,"y":42},{"s":6,"x":62,"y":57},{"s":6,"x":75,"y":80},{"s":6,"x":87,"y":97},{"s":6,"x":100,"y":114},{"s":6,"x":112,"y":128},{"s":6,"x":125,"y":140},{"s":6,"x":137,"y":150},{"s":6,"x":150,"y":161},{"s":6,"x":162,"y":169},{"s":6,"x":175,"y":179},{"s":6,"x":191,"y":191},
{"s":7,"x":1,"y":1},{"s":7,"x":12,"y":15},{"s":7,"x":25,"y":28},{"s":7,"x":37,"y":41},{"s":7,"x":50,"y":53},{"s":7,"x":62,"y":65},{"s":7,"x":75,"y":77},{"s":7,"x":87,"y":88},{"s":7,"x":100,"y":100},{"s":7,"x":112,"y":112},{"s":7,"x":125,"y":124},{"s":7,"x":137,"y":136},{"s":7,"x":150,"y":147},{"s":7,"x":162,"y":160},{"s":7,"x":175,"y":174},{"s":7,"x":191,"y":191},
{"s":8,"x":1,"y":1},{"s":8,"x":12,"y":13},{"s":8,"x":25,"y":26},{"s":8,"x":37,"y":38},{"s":8,"x":50,"y":50},{"s":8,"x":62,"y":62},{"s":8,"x":75,"y":74},{"s":8,"x":87,"y":86},{"s":8,"x":100,"y":99},{"s":8,"x":112,"y":111},{"s":8,"x":125,"y":124},{"s":8,"x":137,"y":136},{"s":8,"x":150,"y":146},{"s":8,"x":162,"y":157},{"s":8,"x":175,"y":171},{"s":8,"x":191,"y":191},
{"s":9,"x":1,"y":1},{"s":9,"x":12,"y":14},{"s":9,"x":25,"y":27},{"s":9,"x":37,"y":39},{"s":9,"x":50,"y":50},{"s":9,"x":62,"y":60},{"s":9,"x":75,"y":71},{"s":9,"x":87,"y":83},{"s":9,"x":100,"y":95},{"s":9,"x":112,"y":106},{"s":9,"x":125,"y":118},{"s":9,"x":137,"y":130},{"s":9,"x":150,"y":143},{"s":9,"x":162,"y":158},{"s":9,"x":175,"y":173},{"s":9,"x":191,"y":191},
{"s":10,"x":1,"y":1},{"s":10,"x":12,"y":7},{"s":10,"x":25,"y":17},{"s":10,"x":37,"y":29},{"s":10,"x":50,"y":42},{"s":10,"x":62,"y":55},{"s":10,"x":75,"y":69},{"s":10,"x":87,"y":83},{"s":10,"x":100,"y":98},{"s":10,"x":112,"y":112},{"s":10,"x":125,"y":126},{"s":10,"x":137,"y":139},{"s":10,"x":150,"y":150},{"s":10,"x":162,"y":163},{"s":10,"x":175,"y":177},{"s":10,"x":191,"y":191},
{"s":11,"x":1,"y":1},{"s":11,"x":12,"y":8},{"s":11,"x":25,"y":19},{"s":11,"x":37,"y":31},{"s":11,"x":50,"y":43},{"s":11,"x":62,"y":55},{"s":11,"x":75,"y":67},{"s":11,"x":87,"y":79},{"s":11,"x":100,"y":92},{"s":11,"x":112,"y":104},{"s":11,"x":125,"y":117},{"s":11,"x":137,"y":130},{"s":11,"x":150,"y":143},{"s":11,"x":162,"y":158},{"s":11,"x":175,"y":174},{"s":11,"x":191,"y":191},
{"s":12,"x":1,"y":1},{"s":12,"x":12,"y":8},{"s":12,"x":25,"y":18},{"s":12,"x":37,"y":28},{"s":12,"x":50,"y":39},{"s":12,"x":62,"y":52},{"s":12,"x":75,"y":66},{"s":12,"x":87,"y":81},{"s":12,"x":100,"y":97},{"s":12,"x":112,"y":111},{"s":12,"x":125,"y":126},{"s":12,"x":137,"y":139},{"s":12,"x":150,"y":152},{"s":12,"x":162,"y":165},{"s":12,"x":175,"y":178},{"s":12,"x":191,"y":191},
{"s":13,"x":1,"y":1},{"s":13,"x":12,"y":10},{"s":13,"x":25,"y":22},{"s":13,"x":37,"y":34},{"s":13,"x":50,"y":46},{"s":13,"x":62,"y":58},{"s":13,"x":75,"y":70},{"s":13,"x":87,"y":82},{"s":13,"x":100,"y":94},{"s":13,"x":112,"y":105},{"s":13,"x":125,"y":116},{"s":13,"x":137,"y":128},{"s":13,"x":150,"y":141},{"s":13,"x":162,"y":156},{"s":13,"x":175,"y":172},{"s":13,"x":191,"y":191},
{"s":14,"x":1,"y":1},{"s":14,"x":12,"y":9},{"s":14,"x":25,"y":19},{"s":14,"x":37,"y":29},{"s":14,"x":50,"y":40},{"s":14,"x":62,"y":51},{"s":14,"x":75,"y":63},{"s":14,"x":87,"y":75},{"s":14,"x":100,"y":87},{"s":14,"x":112,"y":99},{"s":14,"x":125,"y":112},{"s":14,"x":137,"y":126},{"s":14,"x":150,"y":140},{"s":14,"x":162,"y":155},{"s":14,"x":175,"y":172},{"s":14,"x":191,"y":191}
],
"oa":[
{"s":3,"x":0,"y":0.62},{"s":3,"x":5,"y":0.626},{"s":3,"x":10,"y":0.63},{"s":3,"x":15,"y":0.633},{"s":3,"x":20,"y":0.635},{"s":3,"x":25,"y":0.637},{"s":3,"x":30,"y":0.638},{"s":3,"x":35,"y":0.638},{"s":3,"x":40,"y":0.637},{"s":3,"x":45,"y":0.634},{"s":3,"x":50,"y":0.629},{"s":3,"x":55,"y":0.621},{"s":3,"x":60,"y":0.613},{"s":3,"x":65,"y":0.605},{"s":3,"x":70,"y":0.601},{"s":3,"x":75,"y":0.602},{"s":3,"x":80,"y":0.607},{"s":3,"x":85,"y":0.615},{"s":3,"x":90,"y":0.623},{"s":3,"x":95,"y":0.63},{"s":3,"x":100,"y":0.635},{"s":3,"x":105,"y":0.635},{"s":3,"x":110,"y":0.629},{"s":3,"x":115,"y":0.619},{"s":3,"x":120,"y":0.61},{"s":3,"x":125,"y":0.603},{"s":3,"x":130,"y":0.6},{"s":3,"x":135,"y":0.603},{"s":3,"x":140,"y":0.608},{"s":3,"x":145,"y":0.616},{"s":3,"x":150,"y":0.624},{"s":3,"x":155,"y":0.632},{"s":3,"x":160,"y":0.639},{"s":3,"x":165,"y":0.645},{"s":3,"x":170,"y":0.649},{"s":3,"x":174,"y":0.65},{"s":3,"x":178,"y":0.649},{"s":3,"x":182,"y":0.645},{"s":3,"x":186,"y":0.637},{"s":3,"x":189,"y":0.628},{"s":3,"x":191,"y":0.62},
{"s":4,"x":0,"y":0.622},{"s":4,"x":5,"y":0.627},{"s":4,"x":10,"y":0.631},{"s":4,"x":15,"y":0.634},{"s":4,"x":20,"y":0.636},{"s":4,"x":25,"y":0.638},{"s":4,"x":30,"y":0.639},{"s":4,"x":35,"y":0.639},{"s":4,"x":40,"y":0.638},{"s":4,"x":45,"y":0.635},{"s":4,"x":50,"y":0.63},{"s":4,"x":55,"y":0.622},{"s":4,"x":60,"y":0.614},{"s":4,"x":65,"y":0.606},{"s":4,"x":70,"y":0.602},{"s":4,"x":75,"y":0.603},{"s":4,"x":80,"y":0.608},{"s":4,"x":85,"y":0.616},{"s":4,"x":90,"y":0.625},{"s":4,"x":95,"y":0.633},{"s":4,"x":100,"y":0.638},{"s":4,"x":105,"y":0.637},{"s":4,"x":110,"y":0.63},{"s":4,"x":115,"y":0.62},{"s":4,"x":120,"y":0.611},{"s":4,"x":125,"y":0.604},{"s":4,"x":130,"y":0.601},{"s":4,"x":135,"y":0.603},{"s":4,"x":140,"y":0.608},{"s":4,"x":145,"y":0.615},{"s":4,"x":150,"y":0.623},{"s":4,"x":155,"y":0.631},{"s":4,"x":160,"y":0.638},{"s":4,"x":165,"y":0.644},{"s":4,"x":170,"y":0.649},{"s":4,"x":174,"y":0.651},{"s":4,"x":178,"y":0.65},{"s":4,"x":182,"y":0.646},{"s":4,"x":186,"y":0.638},{"s":4,"x":189,"y":0.628},{"s":4,"x":191,"y":0.62},
{"s":1,"x":0.6,"y":0.615},{"s":1,"x":3.6,"y":0.627},{"s":1,"x":8.6,"y":0.597},{"s":1,"x":12.8,"y":0.62},{"s":1,"x":16.3,"y":0.642},{"s":1,"x":20.6,"y":0.6},{"s":1,"x":24.6,"y":0.55},{"s":1,"x":28.2,"y":0.513},{"s":1,"x":31,"y":0.51},{"s":1,"x":35.2,"y":0.484},{"s":1,"x":39.6,"y":0.445},{"s":1,"x":41.1,"y":0.433},{"s":1,"x":43.6,"y":0.454},{"s":1,"x":47.9,"y":0.496},{"s":1,"x":52.1,"y":0.507},{"s":1,"x":54.9,"y":0.507},{"s":1,"x":58.4,"y":0.516},{"s":1,"x":59.8,"y":0.516},{"s":1,"x":63.3,"y":0.478},{"s":1,"x":67.5,"y":0.43},{"s":1,"x":70.3,"y":0.37},{"s":1,"x":73.1,"y":0.293},{"s":1,"x":76.6,"y":0.245},{"s":1,"x":80.1,"y":0.197},{"s":1,"x":82.9,"y":0.197},{"s":1,"x":85,"y":0.2},{"s":1,"x":87.1,"y":0.173},{"s":1,"x":89.9,"y":0.143},{"s":1,"x":94.1,"y":0.143},{"s":1,"x":97.6,"y":0.119},{"s":1,"x":100.5,"y":0.128},{"s":1,"x":102.6,"y":0.134},{"s":1,"x":105.4,"y":0.113},{"s":1,"x":108.9,"y":0.125},{"s":1,"x":111,"y":0.122},{"s":1,"x":113.8,"y":0.099},{"s":1,"x":116.6,"y":0.09},{"s":1,"x":119.4,"y":0.054},{"s":1,"x":122.9,"y":0.06},{"s":1,"x":126.4,"y":0.048},{"s":1,"x":129.2,"y":0.018},{"s":1,"x":132,"y":0},{"s":1,"x":134.8,"y":0.03},{"s":1,"x":137.6,"y":0.078},{"s":1,"x":140.4,"y":0.101},{"s":1,"x":143.2,"y":0.137},{"s":1,"x":146.7,"y":0.137},{"s":1,"x":148.8,"y":0.167},{"s":1,"x":151.6,"y":0.197},{"s":1,"x":154.4,"y":0.221},{"s":1,"x":157.3,"y":0.31},{"s":1,"x":160.8,"y":0.37},{"s":1,"x":164.3,"y":0.43},{"s":1,"x":167.6,"y":0.442},{"s":1,"x":171.1,"y":0.466},{"s":1,"x":174.6,"y":0.478},{"s":1,"x":178.1,"y":0.501},{"s":1,"x":182.3,"y":0.52},{"s":1,"x":185.8,"y":0.51},{"s":1,"x":188.6,"y":0.519},{"s":1,"x":191,"y":0.555},
{"s":12,"x":0,"y":0.615},{"s":12,"x":2.5,"y":0.627},{"s":12,"x":7.5,"y":0.597},{"s":12,"x":11.7,"y":0.62},{"s":12,"x":15.2,"y":0.642},{"s":12,"x":19.5,"y":0.6},{"s":12,"x":23.5,"y":0.55},{"s":12,"x":27.1,"y":0.513},{"s":12,"x":29.9,"y":0.51},{"s":12,"x":34.1,"y":0.484},{"s":12,"x":38.5,"y":0.445},{"s":12,"x":40,"y":0.433},{"s":12,"x":42.5,"y":0.454},{"s":12,"x":46.8,"y":0.496},{"s":12,"x":51,"y":0.507},{"s":12,"x":53.8,"y":0.507},{"s":12,"x":57.3,"y":0.516},{"s":12,"x":58.7,"y":0.516},{"s":12,"x":62.2,"y":0.478},{"s":12,"x":66.4,"y":0.43},{"s":12,"x":69.2,"y":0.37},{"s":12,"x":72,"y":0.293},{"s":12,"x":75.5,"y":0.245},{"s":12,"x":79,"y":0.197},{"s":12,"x":81.8,"y":0.197},{"s":12,"x":83.9,"y":0.2},{"s":12,"x":86,"y":0.173},{"s":12,"x":88.8,"y":0.143},{"s":12,"x":93,"y":0.143},{"s":12,"x":96.5,"y":0.119},{"s":12,"x":99.4,"y":0.128},{"s":12,"x":101.5,"y":0.134},{"s":12,"x":104.3,"y":0.113},{"s":12,"x":107.8,"y":0.125},{"s":12,"x":109.9,"y":0.122},{"s":12,"x":112.7,"y":0.099},{"s":12,"x":115.5,"y":0.09},{"s":12,"x":118.3,"y":0.054},{"s":12,"x":121.8,"y":0.06},{"s":12,"x":125.3,"y":0.048},{"s":12,"x":128.1,"y":0.018},{"s":12,"x":130.9,"y":0},{"s":12,"x":133.7,"y":0.03},{"s":12,"x":136.5,"y":0.078},{"s":12,"x":139.3,"y":0.101},{"s":12,"x":142.1,"y":0.137},{"s":12,"x":145.6,"y":0.137},{"s":12,"x":147.7,"y":0.167},{"s":12,"x":150.5,"y":0.197},{"s":12,"x":153.3,"y":0.221},{"s":12,"x":156.2,"y":0.31},{"s":12,"x":159.7,"y":0.37},{"s":12,"x":163.2,"y":0.43},{"s":12,"x":166.5,"y":0.442},{"s":12,"x":170,"y":0.466},{"s":12,"x":173.5,"y":0.478},{"s":12,"x":177,"y":0.501},{"s":12,"x":181.2,"y":0.52},{"s":12,"x":184.7,"y":0.51},{"s":12,"x":187.5,"y":0.519},{"s":12,"x":191,"y":0.567},
{"s":2,"x":0,"y":0.615},{"s":2,"x":3,"y":0.627},{"s":2,"x":5.5,"y":0.61},{"s":2,"x":8,"y":0.597},{"s":2,"x":10,"y":0.605},{"s":2,"x":12.2,"y":0.62},{"s":2,"x":14,"y":0.635},{"s":2,"x":15.7,"y":0.642},{"s":2,"x":18,"y":0.625},{"s":2,"x":20,"y":0.6},{"s":2,"x":22,"y":0.573},{"s":2,"x":24,"y":0.55},{"s":2,"x":25.5,"y":0.531},{"s":2,"x":27.6,"y":0.513},{"s":2,"x":30.4,"y":0.51},{"s":2,"x":32.5,"y":0.497},{"s":2,"x":34.6,"y":0.484},{"s":2,"x":37.4,"y":0.466},{"s":2,"x":39,"y":0.445},{"s":2,"x":40.5,"y":0.433},{"s":2,"x":42,"y":0.442},{"s":2,"x":43,"y":0.454},{"s":2,"x":45,"y":0.475},{"s":2,"x":47.3,"y":0.496},{"s":2,"x":49.5,"y":0.505},{"s":2,"x":51.5,"y":0.507},{"s":2,"x":54.3,"y":0.507},{"s":2,"x":56,"y":0.512},{"s":2,"x":57.8,"y":0.516},{"s":2,"x":59.2,"y":0.516},{"s":2,"x":61,"y":0.5},{"s":2,"x":62.7,"y":0.478},{"s":2,"x":65,"y":0.455},{"s":2,"x":66.9,"y":0.43},{"s":2,"x":68.3,"y":0.4},{"s":2,"x":69.7,"y":0.37},{"s":2,"x":71,"y":0.33},{"s":2,"x":72.5,"y":0.293},{"s":2,"x":74,"y":0.27},{"s":2,"x":76,"y":0.245},{"s":2,"x":78,"y":0.215},{"s":2,"x":79.5,"y":0.197},{"s":2,"x":81,"y":0.193},{"s":2,"x":82.3,"y":0.197},{"s":2,"x":84.4,"y":0.2},{"s":2,"x":86.5,"y":0.173},{"s":2,"x":88,"y":0.155},{"s":2,"x":89.3,"y":0.143},{"s":2,"x":91,"y":0.14},{"s":2,"x":93.5,"y":0.143},{"s":2,"x":95,"y":0.13},{"s":2,"x":97,"y":0.119},{"s":2,"x":99.9,"y":0.128},{"s":2,"x":102,"y":0.134},{"s":2,"x":103.5,"y":0.125},{"s":2,"x":104.8,"y":0.113},{"s":2,"x":106.5,"y":0.118},{"s":2,"x":108.3,"y":0.125},{"s":2,"x":110.4,"y":0.122},{"s":2,"x":111.8,"y":0.11},{"s":2,"x":113.2,"y":0.099},{"s":2,"x":116,"y":0.09},{"s":2,"x":117.5,"y":0.07},{"s":2,"x":118.8,"y":0.054},{"s":2,"x":120.5,"y":0.056},{"s":2,"x":122.3,"y":0.06},{"s":2,"x":124,"y":0.056},{"s":2,"x":125.8,"y":0.048},{"s":2,"x":127.2,"y":0.035},{"s":2,"x":128.6,"y":0.018},{"s":2,"x":130,"y":0.008},{"s":2,"x":131.4,"y":0},{"s":2,"x":132.8,"y":0.012},{"s":2,"x":134.2,"y":0.03},{"s":2,"x":135.5,"y":0.055},{"s":2,"x":137,"y":0.078},{"s":2,"x":138.5,"y":0.09},{"s":2,"x":139.8,"y":0.101},{"s":2,"x":141.2,"y":0.12},{"s":2,"x":142.6,"y":0.137},{"s":2,"x":144.4,"y":0.14},{"s":2,"x":146.1,"y":0.137},{"s":2,"x":147.2,"y":0.15},{"s":2,"x":148.2,"y":0.167},{"s":2,"x":149.6,"y":0.185},{"s":2,"x":151,"y":0.197},{"s":2,"x":152.5,"y":0.208},{"s":2,"x":153.8,"y":0.221},{"s":2,"x":155.3,"y":0.26},{"s":2,"x":156.7,"y":0.31},{"s":2,"x":158.5,"y":0.34},{"s":2,"x":160.2,"y":0.37},{"s":2,"x":162,"y":0.405},{"s":2,"x":163.7,"y":0.43},{"s":2,"x":165.3,"y":0.438},{"s":2,"x":167,"y":0.442},{"s":2,"x":168.8,"y":0.452},{"s":2,"x":170.5,"y":0.466},{"s":2,"x":172.2,"y":0.473},{"s":2,"x":174,"y":0.478},{"s":2,"x":175.8,"y":0.49},{"s":2,"x":177.5,"y":0.501},{"s":2,"x":179.5,"y":0.515},{"s":2,"x":181.7,"y":0.52},{"s":2,"x":183.5,"y":0.515},{"s":2,"x":185.2,"y":0.51},{"s":2,"x":186.6,"y":0.512},{"s":2,"x":188,"y":0.519},{"s":2,"x":189.7,"y":0.54},{"s":2,"x":191,"y":0.56},
{"s":5,"x":0,"y":0.622},{"s":5,"x":2,"y":0.64},{"s":5,"x":5,"y":0.655},{"s":5,"x":8.7,"y":0.66},{"s":5,"x":12,"y":0.653},{"s":5,"x":16.4,"y":0.635},{"s":5,"x":20,"y":0.607},{"s":5,"x":24.8,"y":0.575},{"s":5,"x":30.4,"y":0.545},{"s":5,"x":34,"y":0.524},{"s":5,"x":37.4,"y":0.512},{"s":5,"x":41,"y":0.514},{"s":5,"x":44.5,"y":0.527},{"s":5,"x":47,"y":0.54},{"s":5,"x":50,"y":0.558},{"s":5,"x":54,"y":0.603},{"s":5,"x":58.5,"y":0.653},{"s":5,"x":62,"y":0.693},{"s":5,"x":66.9,"y":0.737},{"s":5,"x":70,"y":0.763},{"s":5,"x":73.9,"y":0.785},{"s":5,"x":77,"y":0.798},{"s":5,"x":80.2,"y":0.802},{"s":5,"x":84,"y":0.798},{"s":5,"x":87,"y":0.786},{"s":5,"x":89.3,"y":0.774},{"s":5,"x":92,"y":0.752},{"s":5,"x":96.3,"y":0.72},{"s":5,"x":100,"y":0.68},{"s":5,"x":103.4,"y":0.643},{"s":5,"x":107,"y":0.6},{"s":5,"x":111.8,"y":0.553},{"s":5,"x":115,"y":0.515},{"s":5,"x":118.8,"y":0.482},{"s":5,"x":122,"y":0.452},{"s":5,"x":125.8,"y":0.422},{"s":5,"x":129,"y":0.4},{"s":5,"x":132.8,"y":0.385},{"s":5,"x":136,"y":0.374},{"s":5,"x":140.5,"y":0.369},{"s":5,"x":145,"y":0.374},{"s":5,"x":149.6,"y":0.39},{"s":5,"x":154,"y":0.41},{"s":5,"x":158,"y":0.433},{"s":5,"x":163,"y":0.463},{"s":5,"x":167.8,"y":0.493},{"s":5,"x":173,"y":0.525},{"s":5,"x":179,"y":0.564},{"s":5,"x":185,"y":0.598},{"s":5,"x":191,"y":0.63},
{"s":6,"x":0,"y":0.622},{"s":6,"x":2,"y":0.636},{"s":6,"x":5,"y":0.648},{"s":6,"x":8.7,"y":0.652},{"s":6,"x":12,"y":0.645},{"s":6,"x":16.4,"y":0.628},{"s":6,"x":20,"y":0.6},{"s":6,"x":24.8,"y":0.568},{"s":6,"x":30.4,"y":0.538},{"s":6,"x":34,"y":0.517},{"s":6,"x":37.4,"y":0.506},{"s":6,"x":41,"y":0.508},{"s":6,"x":44.5,"y":0.52},{"s":6,"x":47,"y":0.532},{"s":6,"x":50,"y":0.55},{"s":6,"x":54,"y":0.593},{"s":6,"x":58.5,"y":0.643},{"s":6,"x":62,"y":0.683},{"s":6,"x":66.9,"y":0.727},{"s":6,"x":70,"y":0.753},{"s":6,"x":73.9,"y":0.775},{"s":6,"x":77,"y":0.789},{"s":6,"x":80.2,"y":0.795},{"s":6,"x":84,"y":0.79},{"s":6,"x":87,"y":0.778},{"s":6,"x":89.3,"y":0.765},{"s":6,"x":92,"y":0.742},{"s":6,"x":96.3,"y":0.708},{"s":6,"x":100,"y":0.665},{"s":6,"x":103.4,"y":0.628},{"s":6,"x":107,"y":0.585},{"s":6,"x":111.8,"y":0.538},{"s":6,"x":115,"y":0.5},{"s":6,"x":118.8,"y":0.468},{"s":6,"x":122,"y":0.438},{"s":6,"x":125.8,"y":0.408},{"s":6,"x":129,"y":0.388},{"s":6,"x":132.8,"y":0.373},{"s":6,"x":136,"y":0.365},{"s":6,"x":140.5,"y":0.361},{"s":6,"x":145,"y":0.366},{"s":6,"x":149.6,"y":0.381},{"s":6,"x":154,"y":0.4},{"s":6,"x":158,"y":0.423},{"s":6,"x":163,"y":0.452},{"s":6,"x":167.8,"y":0.482},{"s":6,"x":173,"y":0.514},{"s":6,"x":179,"y":0.553},{"s":6,"x":185,"y":0.588},{"s":6,"x":191,"y":0.62},
{"s":7,"x":0,"y":0.622},{"s":7,"x":2,"y":0.64},{"s":7,"x":5,"y":0.652},{"s":7,"x":8.7,"y":0.657},{"s":7,"x":12,"y":0.65},{"s":7,"x":16.4,"y":0.633},{"s":7,"x":20,"y":0.605},{"s":7,"x":24.8,"y":0.573},{"s":7,"x":30.4,"y":0.543},{"s":7,"x":34,"y":0.522},{"s":7,"x":37.4,"y":0.51},{"s":7,"x":41,"y":0.512},{"s":7,"x":44.5,"y":0.525},{"s":7,"x":47,"y":0.538},{"s":7,"x":50,"y":0.555},{"s":7,"x":54,"y":0.6},{"s":7,"x":58.5,"y":0.65},{"s":7,"x":62,"y":0.69},{"s":7,"x":66.9,"y":0.734},{"s":7,"x":70,"y":0.76},{"s":7,"x":73.9,"y":0.782},{"s":7,"x":77,"y":0.795},{"s":7,"x":80.2,"y":0.8},{"s":7,"x":84,"y":0.795},{"s":7,"x":87,"y":0.783},{"s":7,"x":89.3,"y":0.77},{"s":7,"x":92,"y":0.748},{"s":7,"x":96.3,"y":0.716},{"s":7,"x":100,"y":0.675},{"s":7,"x":103.4,"y":0.639},{"s":7,"x":107,"y":0.595},{"s":7,"x":111.8,"y":0.549},{"s":7,"x":115,"y":0.51},{"s":7,"x":118.8,"y":0.478},{"s":7,"x":122,"y":0.448},{"s":7,"x":125.8,"y":0.418},{"s":7,"x":129,"y":0.397},{"s":7,"x":132.8,"y":0.382},{"s":7,"x":136,"y":0.372},{"s":7,"x":140.5,"y":0.367},{"s":7,"x":145,"y":0.372},{"s":7,"x":149.6,"y":0.388},{"s":7,"x":154,"y":0.407},{"s":7,"x":158,"y":0.43},{"s":7,"x":163,"y":0.46},{"s":7,"x":167.8,"y":0.49},{"s":7,"x":173,"y":0.522},{"s":7,"x":179,"y":0.561},{"s":7,"x":185,"y":0.595},{"s":7,"x":191,"y":0.627}
]
},
"columns":2,
"spacing":{"row":110,"column":151},
"bounds":"flush",
"concat":[
{"width":820,"height":467,"title":{"text":"True warpings","dx":-34,"offset":4,"frame":"group"},
"layer":[
{"data":{"name":"tw"},"mark":{"type":"line","strokeWidth":2.8,"interpolate":"monotone","clip":true},
"encoding":{"x":{"field":"x","type":"quantitative","scale":{"domain":[0,191],"nice":false,"zero":false},"axis":{"orient":"bottom","values":[0,50,100,150],"title":null}},
"y":{"field":"y","type":"quantitative","scale":{"domain":[0,191],"nice":false,"zero":false},"axis":{"orient":"left","values":[0,20,40,60,80,100,120,140,160,180],"title":null}},
"color":{"field":"s","type":"nominal","scale":{"domain":[1,2,3,4,5,6,7,8,9,10,11,12,13,14],"range":["#0072BD","#D95319","#EDB120","#7E2F8E","#77AC30","#4DBEEE","#A2142F","#0072BD","#D95319","#EDB120","#7E2F8E","#77AC30","#4DBEEE","#A2142F"]},"legend":null}}},
{"data":{"name":"tw"},"mark":{"type":"point","opacity":0},
"encoding":{"x":{"field":"x","type":"quantitative","scale":{"domain":[0,191],"nice":false,"zero":false},"axis":{"orient":"top","values":[0,50,100,150],"labels":false,"title":null}},
"y":{"field":"y","type":"quantitative","scale":{"domain":[0,191],"nice":false,"zero":false},"axis":{"orient":"right","values":[0,20,40,60,80,100,120,140,160,180],"labels":false,"title":null}}}}
],
"resolve":{"axis":{"x":"independent","y":"independent"}}},
{"width":821,"height":458,"title":{"text":"Raw inputs","dx":-37,"offset":-1.5,"frame":"group"},
"layer":[
{"data":{"name":"rw"},"mark":{"type":"line","strokeWidth":2.8,"clip":true},
"encoding":{"x":{"field":"x","type":"quantitative","scale":{"domain":[0,191],"nice":false,"zero":false},"axis":{"orient":"bottom","values":[0,50,100,150],"title":null}},
"y":{"field":"y","type":"quantitative","scale":{"domain":[0,0.8],"nice":false,"zero":false},"axis":{"orient":"left","values":[0,0.1,0.2,0.3,0.4,0.5,0.6,0.7,0.8],"format":".1~f","title":null}},
"color":{"field":"s","type":"nominal","scale":{"domain":[1,2,3,4,5,6,7,8,9,10,11,12,13,14],"range":["#0072BD","#D95319","#EDB120","#7E2F8E","#77AC30","#4DBEEE","#A2142F","#0072BD","#D95319","#EDB120","#7E2F8E","#77AC30","#4DBEEE","#A2142F"]},"legend":null}}},
{"data":{"name":"rw"},"mark":{"type":"point","opacity":0},
"encoding":{"x":{"field":"x","type":"quantitative","scale":{"domain":[0,191],"nice":false,"zero":false},"axis":{"orient":"top","values":[0,50,100,150],"labels":false,"title":null}},
"y":{"field":"y","type":"quantitative","scale":{"domain":[0,0.8],"nice":false,"zero":false},"axis":{"orient":"right","values":[0,0.1,0.2,0.3,0.4,0.5,0.6,0.7,0.8],"labels":false,"title":null}}}}
],
"resolve":{"axis":{"x":"independent","y":"independent"}}},
{"width":820,"height":466,"title":{"text":"SRVF warpings","dx":-36,"offset":8,"frame":"group"},
"layer":[
{"data":{"name":"sw"},"mark":{"type":"line","strokeWidth":2.8,"clip":true},
"encoding":{"x":{"field":"x","type":"quantitative","scale":{"domain":[0,191],"nice":false,"zero":false},"axis":{"orient":"bottom","values":[0,50,100,150],"title":null}},
"y":{"field":"y","type":"quantitative","scale":{"domain":[0,191],"nice":false,"zero":false},"axis":{"orient":"left","values":[0,20,40,60,80,100,120,140,160,180],"title":null}},
"color":{"field":"s","type":"nominal","scale":{"domain":[1,2,3,4,5,6,7,8,9,10,11,12,13,14],"range":["#0072BD","#D95319","#EDB120","#7E2F8E","#77AC30","#4DBEEE","#A2142F","#0072BD","#D95319","#EDB120","#7E2F8E","#77AC30","#4DBEEE","#A2142F"]},"legend":null}}},
{"data":{"name":"sw"},"mark":{"type":"point","opacity":0},
"encoding":{"x":{"field":"x","type":"quantitative","scale":{"domain":[0,191],"nice":false,"zero":false},"axis":{"orient":"top","values":[0,50,100,150],"labels":false,"title":null}},
"y":{"field":"y","type":"quantitative","scale":{"domain":[0,191],"nice":false,"zero":false},"axis":{"orient":"right","values":[0,20,40,60,80,100,120,140,160,180],"labels":false,"title":null}}}}
],
"resolve":{"axis":{"x":"independent","y":"independent"}}},
{"width":827,"height":458,"title":{"text":"SRVF alignment","dx":-13,"offset":-5.5,"frame":"group"},
"layer":[
{"data":{"name":"sa"},"mark":{"type":"line","strokeWidth":2.8,"clip":true},
"encoding":{"x":{"field":"x","type":"quantitative","scale":{"domain":[0,191],"nice":false,"zero":false},"axis":{"orient":"bottom","values":[0,50,100,150],"title":null}},
"y":{"field":"y","type":"quantitative","scale":{"domain":[0,0.8],"nice":false,"zero":false},"axis":{"orient":"left","values":[0,0.1,0.2,0.3,0.4,0.5,0.6,0.7,0.8],"format":".1~f","title":null}},
"color":{"field":"s","type":"nominal","scale":{"domain":[1,2,3,4,5,6,7,8,9,10,11,12,13,14],"range":["#0072BD","#D95319","#EDB120","#7E2F8E","#77AC30","#4DBEEE","#A2142F","#0072BD","#D95319","#EDB120","#7E2F8E","#77AC30","#4DBEEE","#A2142F"]},"legend":null}}},
{"data":{"name":"sa"},"mark":{"type":"point","opacity":0},
"encoding":{"x":{"field":"x","type":"quantitative","scale":{"domain":[0,191],"nice":false,"zero":false},"axis":{"orient":"top","values":[0,50,100,150],"labels":false,"title":null}},
"y":{"field":"y","type":"quantitative","scale":{"domain":[0,0.8],"nice":false,"zero":false},"axis":{"orient":"right","values":[0,0.1,0.2,0.3,0.4,0.5,0.6,0.7,0.8],"labels":false,"title":null}}}}
],
"resolve":{"axis":{"x":"independent","y":"independent"}}},
{"width":820,"height":460,"title":{"text":"Our warpings","dx":-35,"offset":10,"frame":"group"},
"layer":[
{"data":{"name":"ow"},"mark":{"type":"line","strokeWidth":2.8,"interpolate":"monotone","clip":true},
"encoding":{"x":{"field":"x","type":"quantitative","scale":{"domain":[0,191],"nice":false,"zero":false},"axis":{"orient":"bottom","values":[0,50,100,150],"title":null}},
"y":{"field":"y","type":"quantitative","scale":{"domain":[0,191],"nice":false,"zero":false},"axis":{"orient":"left","values":[0,20,40,60,80,100,120,140,160,180],"title":null}},
"color":{"field":"s","type":"nominal","scale":{"domain":[1,2,3,4,5,6,7,8,9,10,11,12,13,14],"range":["#0072BD","#D95319","#EDB120","#7E2F8E","#77AC30","#4DBEEE","#A2142F","#0072BD","#D95319","#EDB120","#7E2F8E","#77AC30","#4DBEEE","#A2142F"]},"legend":null}}},
{"data":{"name":"ow"},"mark":{"type":"point","opacity":0},
"encoding":{"x":{"field":"x","type":"quantitative","scale":{"domain":[0,191],"nice":false,"zero":false},"axis":{"orient":"top","values":[0,50,100,150],"labels":false,"title":null}},
"y":{"field":"y","type":"quantitative","scale":{"domain":[0,191],"nice":false,"zero":false},"axis":{"orient":"right","values":[0,20,40,60,80,100,120,140,160,180],"labels":false,"title":null}}}}
],
"resolve":{"axis":{"x":"independent","y":"independent"}}},
{"width":828,"height":458,"title":{"text":"Our alignment","dx":-13,"offset":-3.5,"frame":"group"},
"layer":[
{"data":{"name":"oa"},"mark":{"type":"line","strokeWidth":3.2,"interpolate":"monotone","clip":true},
"encoding":{"x":{"field":"x","type":"quantitative","scale":{"domain":[0,191],"nice":false,"zero":false},"axis":{"orient":"bottom","values":[0,50,100,150],"title":null}},
"y":{"field":"y","type":"quantitative","scale":{"domain":[0,0.8],"nice":false,"zero":false},"axis":{"orient":"left","values":[0,0.1,0.2,0.3,0.4,0.5,0.6,0.7,0.8],"format":".1~f","title":null}},
"color":{"field":"s","type":"nominal","scale":{"domain":[1,2,3,4,5,6,7,8,9,10,11,12,13,14],"range":["#0072BD","#D95319","#EDB120","#7E2F8E","#77AC30","#4DBEEE","#A2142F","#0072BD","#D95319","#EDB120","#7E2F8E","#77AC30","#4DBEEE","#A2142F"]},"legend":null}}},
{"data":{"name":"oa"},"mark":{"type":"point","opacity":0},
"encoding":{"x":{"field":"x","type":"quantitative","scale":{"domain":[0,191],"nice":false,"zero":false},"axis":{"orient":"top","values":[0,50,100,150],"labels":false,"title":null}},
"y":{"field":"y","type":"quantitative","scale":{"domain":[0,0.8],"nice":false,"zero":false},"axis":{"orient":"right","values":[0,0.1,0.2,0.3,0.4,0.5,0.6,0.7,0.8],"labels":false,"title":null}}}}
],
"resolve":{"axis":{"x":"independent","y":"independent"}}}
]
}
